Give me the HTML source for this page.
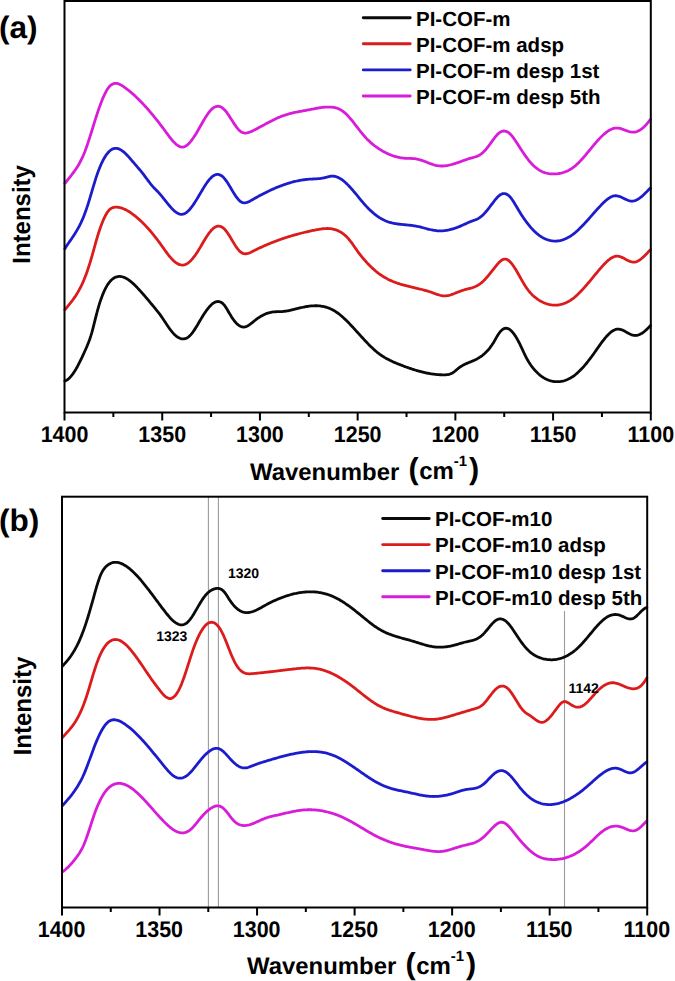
<!DOCTYPE html>
<html><head><meta charset="utf-8"><style>
html,body{margin:0;padding:0;background:#fff;}
body{width:675px;height:981px;overflow:hidden;font-family:"Liberation Sans",sans-serif;}
svg{display:block;text-rendering:geometricPrecision;}
</style></head><body>
<svg width="675" height="981" viewBox="0 0 675 981">
<rect width="675" height="981" fill="#fff"/>
<text transform="translate(-1.00,37.60) scale(1.020,1.000)" font-size="31.00" font-family="'Liberation Sans', sans-serif" font-weight="bold">(a)</text>
<text transform="translate(29.60,214.40) rotate(-90) scale(1.000,1.040)" font-size="24.00" text-anchor="middle" font-family="'Liberation Sans', sans-serif" font-weight="bold">Intensity</text>
<path d="M64.90,381.02 L65.90,380.60 L66.90,380.03 L67.90,379.32 L68.90,378.47 L69.90,377.49 L70.90,376.38 L71.90,375.15 L72.90,373.81 L73.90,372.37 L74.90,370.82 L75.90,369.17 L76.90,367.43 L77.90,365.61 L78.90,363.71 L79.90,361.74 L80.90,359.71 L81.90,357.61 L82.90,355.46 L83.90,353.26 L84.90,351.02 L85.90,348.75 L86.90,346.43 L87.90,344.03 L88.90,341.48 L89.90,338.72 L90.90,335.68 L91.90,332.30 L92.90,328.60 L93.90,324.67 L94.90,320.65 L95.90,316.63 L96.90,312.73 L97.90,309.05 L98.90,305.61 L99.90,302.40 L100.90,299.42 L101.90,296.65 L102.90,294.10 L103.90,291.75 L104.90,289.61 L105.90,287.65 L106.90,285.87 L107.90,284.28 L108.90,282.85 L109.90,281.59 L110.90,280.49 L111.90,279.53 L112.90,278.72 L113.90,278.04 L114.90,277.49 L115.90,277.07 L116.90,276.76 L117.90,276.56 L118.90,276.46 L119.90,276.46 L120.90,276.55 L121.90,276.73 L122.90,276.99 L123.90,277.33 L124.90,277.76 L125.90,278.25 L126.90,278.81 L127.90,279.44 L128.90,280.13 L129.90,280.87 L130.90,281.67 L131.90,282.51 L132.90,283.40 L133.90,284.33 L134.90,285.30 L135.90,286.30 L136.90,287.32 L137.90,288.37 L138.90,289.44 L139.90,290.53 L140.90,291.63 L141.90,292.74 L142.90,293.87 L143.90,295.01 L144.90,296.16 L145.90,297.32 L146.90,298.50 L147.90,299.68 L148.90,300.87 L149.90,302.07 L150.90,303.28 L151.90,304.49 L152.90,305.72 L153.90,306.95 L154.90,308.18 L155.90,309.42 L156.90,310.66 L157.90,311.91 L158.90,313.17 L159.90,314.47 L160.90,315.83 L161.90,317.25 L162.90,318.72 L163.90,320.21 L164.90,321.73 L165.90,323.25 L166.90,324.75 L167.90,326.24 L168.90,327.68 L169.90,329.08 L170.90,330.41 L171.90,331.66 L172.90,332.83 L173.90,333.91 L174.90,334.89 L175.90,335.78 L176.90,336.57 L177.90,337.25 L178.90,337.83 L179.90,338.29 L180.90,338.63 L181.90,338.84 L182.90,338.93 L183.90,338.89 L184.90,338.72 L185.90,338.40 L186.90,337.94 L187.90,337.33 L188.90,336.57 L189.90,335.66 L190.90,334.59 L191.90,333.39 L192.90,332.07 L193.90,330.64 L194.90,329.13 L195.90,327.55 L196.90,325.91 L197.90,324.23 L198.90,322.53 L199.90,320.83 L200.90,319.13 L201.90,317.45 L202.90,315.82 L203.90,314.23 L204.90,312.70 L205.90,311.24 L206.90,309.85 L207.90,308.54 L208.90,307.32 L209.90,306.20 L210.90,305.17 L211.90,304.26 L212.90,303.46 L213.90,302.79 L214.90,302.25 L215.90,301.85 L216.90,301.60 L217.90,301.50 L218.90,301.56 L219.90,301.80 L220.90,302.21 L221.90,302.82 L222.90,303.64 L223.90,304.67 L224.90,305.93 L225.90,307.39 L226.90,308.99 L227.90,310.69 L228.90,312.43 L229.90,314.16 L230.90,315.84 L231.90,317.42 L232.90,318.90 L233.90,320.27 L234.90,321.53 L235.90,322.67 L236.90,323.69 L237.90,324.59 L238.90,325.35 L239.90,325.98 L240.90,326.46 L241.90,326.80 L242.90,326.99 L243.90,327.03 L244.90,326.93 L245.90,326.67 L246.90,326.28 L247.90,325.77 L248.90,325.16 L249.90,324.47 L250.90,323.72 L251.90,322.93 L252.90,322.11 L253.90,321.29 L254.90,320.48 L255.90,319.69 L256.90,318.94 L257.90,318.23 L258.90,317.55 L259.90,316.90 L260.90,316.29 L261.90,315.72 L262.90,315.18 L263.90,314.68 L264.90,314.22 L265.90,313.80 L266.90,313.42 L267.90,313.08 L268.90,312.78 L269.90,312.52 L270.90,312.30 L271.90,312.12 L272.90,311.98 L273.90,311.88 L274.90,311.81 L275.90,311.75 L276.90,311.72 L277.90,311.69 L278.90,311.67 L279.90,311.64 L280.90,311.60 L281.90,311.55 L282.90,311.48 L283.90,311.38 L284.90,311.26 L285.90,311.12 L286.90,310.96 L287.90,310.78 L288.90,310.59 L289.90,310.38 L290.90,310.16 L291.90,309.93 L292.90,309.70 L293.90,309.45 L294.90,309.20 L295.90,308.95 L296.90,308.70 L297.90,308.45 L298.90,308.20 L299.90,307.95 L300.90,307.72 L301.90,307.49 L302.90,307.26 L303.90,307.05 L304.90,306.86 L305.90,306.67 L306.90,306.50 L307.90,306.35 L308.90,306.21 L309.90,306.08 L310.90,305.98 L311.90,305.89 L312.90,305.83 L313.90,305.78 L314.90,305.76 L315.90,305.75 L316.90,305.77 L317.90,305.82 L318.90,305.89 L319.90,305.98 L320.90,306.11 L321.90,306.26 L322.90,306.44 L323.90,306.65 L324.90,306.88 L325.90,307.16 L326.90,307.46 L327.90,307.79 L328.90,308.17 L329.90,308.57 L330.90,309.01 L331.90,309.49 L332.90,310.01 L333.90,310.56 L334.90,311.16 L335.90,311.79 L336.90,312.47 L337.90,313.18 L338.90,313.94 L339.90,314.72 L340.90,315.54 L341.90,316.40 L342.90,317.28 L343.90,318.19 L344.90,319.12 L345.90,320.08 L346.90,321.07 L347.90,322.07 L348.90,323.09 L349.90,324.13 L350.90,325.18 L351.90,326.24 L352.90,327.32 L353.90,328.40 L354.90,329.49 L355.90,330.59 L356.90,331.70 L357.90,332.80 L358.90,333.91 L359.90,335.02 L360.90,336.12 L361.90,337.22 L362.90,338.31 L363.90,339.40 L364.90,340.47 L365.90,341.54 L366.90,342.59 L367.90,343.63 L368.90,344.65 L369.90,345.66 L370.90,346.64 L371.90,347.61 L372.90,348.55 L373.90,349.46 L374.90,350.35 L375.90,351.21 L376.90,352.05 L377.90,352.85 L378.90,353.61 L379.90,354.35 L380.90,355.06 L381.90,355.74 L382.90,356.39 L383.90,357.02 L384.90,357.63 L385.90,358.21 L386.90,358.77 L387.90,359.30 L388.90,359.82 L389.90,360.33 L390.90,360.81 L391.90,361.28 L392.90,361.74 L393.90,362.18 L394.90,362.61 L395.90,363.04 L396.90,363.45 L397.90,363.86 L398.90,364.26 L399.90,364.65 L400.90,365.05 L401.90,365.43 L402.90,365.82 L403.90,366.19 L404.90,366.57 L405.90,366.94 L406.90,367.30 L407.90,367.66 L408.90,368.01 L409.90,368.35 L410.90,368.69 L411.90,369.02 L412.90,369.35 L413.90,369.67 L414.90,369.98 L415.90,370.28 L416.90,370.58 L417.90,370.86 L418.90,371.14 L419.90,371.41 L420.90,371.68 L421.90,371.93 L422.90,372.18 L423.90,372.41 L424.90,372.64 L425.90,372.85 L426.90,373.06 L427.90,373.25 L428.90,373.44 L429.90,373.62 L430.90,373.78 L431.90,373.93 L432.90,374.07 L433.90,374.20 L434.90,374.32 L435.90,374.43 L436.90,374.52 L437.90,374.60 L438.90,374.67 L439.90,374.73 L440.90,374.77 L441.90,374.80 L442.90,374.82 L443.90,374.82 L444.90,374.80 L445.90,374.75 L446.90,374.66 L447.90,374.52 L448.90,374.32 L449.90,374.04 L450.90,373.68 L451.90,373.23 L452.90,372.68 L453.90,372.01 L454.90,371.24 L455.90,370.41 L456.90,369.55 L457.90,368.70 L458.90,367.90 L459.90,367.17 L460.90,366.49 L461.90,365.88 L462.90,365.31 L463.90,364.78 L464.90,364.29 L465.90,363.83 L466.90,363.39 L467.90,362.96 L468.90,362.54 L469.90,362.13 L470.90,361.71 L471.90,361.29 L472.90,360.86 L473.90,360.41 L474.90,359.94 L475.90,359.45 L476.90,358.93 L477.90,358.38 L478.90,357.79 L479.90,357.16 L480.90,356.49 L481.90,355.77 L482.90,355.00 L483.90,354.18 L484.90,353.29 L485.90,352.34 L486.90,351.31 L487.90,350.22 L488.90,349.05 L489.90,347.80 L490.90,346.46 L491.90,345.03 L492.90,343.51 L493.90,341.90 L494.90,340.18 L495.90,338.42 L496.90,336.67 L497.90,335.00 L498.90,333.47 L499.90,332.13 L500.90,330.96 L501.90,330.00 L502.90,329.23 L503.90,328.68 L504.90,328.35 L505.90,328.23 L506.90,328.31 L507.90,328.58 L508.90,329.05 L509.90,329.69 L510.90,330.50 L511.90,331.48 L512.90,332.62 L513.90,333.90 L514.90,335.32 L515.90,336.87 L516.90,338.55 L517.90,340.34 L518.90,342.24 L519.90,344.24 L520.90,346.32 L521.90,348.46 L522.90,350.62 L523.90,352.76 L524.90,354.86 L525.90,356.88 L526.90,358.80 L527.90,360.59 L528.90,362.25 L529.90,363.81 L530.90,365.26 L531.90,366.62 L532.90,367.90 L533.90,369.10 L534.90,370.25 L535.90,371.33 L536.90,372.35 L537.90,373.32 L538.90,374.22 L539.90,375.07 L540.90,375.86 L541.90,376.60 L542.90,377.28 L543.90,377.91 L544.90,378.49 L545.90,379.01 L546.90,379.49 L547.90,379.91 L548.90,380.29 L549.90,380.62 L550.90,380.91 L551.90,381.15 L552.90,381.34 L553.90,381.50 L554.90,381.61 L555.90,381.68 L556.90,381.71 L557.90,381.70 L558.90,381.65 L559.90,381.55 L560.90,381.42 L561.90,381.25 L562.90,381.03 L563.90,380.78 L564.90,380.48 L565.90,380.13 L566.90,379.75 L567.90,379.32 L568.90,378.84 L569.90,378.32 L570.90,377.76 L571.90,377.14 L572.90,376.49 L573.90,375.78 L574.90,375.03 L575.90,374.23 L576.90,373.39 L577.90,372.50 L578.90,371.57 L579.90,370.60 L580.90,369.59 L581.90,368.54 L582.90,367.45 L583.90,366.32 L584.90,365.17 L585.90,363.98 L586.90,362.75 L587.90,361.50 L588.90,360.22 L589.90,358.92 L590.90,357.58 L591.90,356.23 L592.90,354.85 L593.90,353.45 L594.90,352.03 L595.90,350.61 L596.90,349.17 L597.90,347.75 L598.90,346.33 L599.90,344.92 L600.90,343.53 L601.90,342.17 L602.90,340.85 L603.90,339.56 L604.90,338.32 L605.90,337.13 L606.90,335.99 L607.90,334.92 L608.90,333.92 L609.90,333.00 L610.90,332.16 L611.90,331.40 L612.90,330.75 L613.90,330.19 L614.90,329.74 L615.90,329.40 L616.90,329.18 L617.90,329.09 L618.90,329.13 L619.90,329.28 L620.90,329.54 L621.90,329.89 L622.90,330.31 L623.90,330.79 L624.90,331.31 L625.90,331.86 L626.90,332.42 L627.90,332.97 L628.90,333.51 L629.90,334.01 L630.90,334.46 L631.90,334.85 L632.90,335.16 L633.90,335.38 L634.90,335.48 L635.90,335.47 L636.90,335.34 L637.90,335.11 L638.90,334.78 L639.90,334.35 L640.90,333.84 L641.90,333.24 L642.90,332.57 L643.90,331.82 L644.90,331.01 L645.90,330.14 L646.90,329.21 L647.90,328.23 L648.90,327.22 L649.90,326.16 L650.50,325.51" fill="none" stroke="#0a0a0a" stroke-width="2.80" stroke-linejoin="round" stroke-linecap="round"/>
<path d="M64.90,309.69 L65.90,308.49 L66.90,307.30 L67.90,306.10 L68.90,304.88 L69.90,303.65 L70.90,302.39 L71.90,301.09 L72.90,299.75 L73.90,298.36 L74.90,296.92 L75.90,295.40 L76.90,293.81 L77.90,292.14 L78.90,290.38 L79.90,288.53 L80.90,286.57 L81.90,284.50 L82.90,282.31 L83.90,279.99 L84.90,277.53 L85.90,274.94 L86.90,272.19 L87.90,269.30 L88.90,266.26 L89.90,263.08 L90.90,259.77 L91.90,256.32 L92.90,252.77 L93.90,249.16 L94.90,245.54 L95.90,241.97 L96.90,238.49 L97.90,235.15 L98.90,231.96 L99.90,228.95 L100.90,226.10 L101.90,223.43 L102.90,220.95 L103.90,218.66 L104.90,216.57 L105.90,214.68 L106.90,213.01 L107.90,211.56 L108.90,210.33 L109.90,209.34 L110.90,208.56 L111.90,207.97 L112.90,207.56 L113.90,207.29 L114.90,207.15 L115.90,207.11 L116.90,207.16 L117.90,207.26 L118.90,207.42 L119.90,207.63 L120.90,207.89 L121.90,208.19 L122.90,208.54 L123.90,208.94 L124.90,209.38 L125.90,209.86 L126.90,210.38 L127.90,210.94 L128.90,211.54 L129.90,212.17 L130.90,212.84 L131.90,213.54 L132.90,214.27 L133.90,215.03 L134.90,215.82 L135.90,216.63 L136.90,217.48 L137.90,218.34 L138.90,219.23 L139.90,220.14 L140.90,221.08 L141.90,222.04 L142.90,223.02 L143.90,224.03 L144.90,225.05 L145.90,226.11 L146.90,227.18 L147.90,228.28 L148.90,229.40 L149.90,230.54 L150.90,231.70 L151.90,232.89 L152.90,234.10 L153.90,235.33 L154.90,236.59 L155.90,237.87 L156.90,239.17 L157.90,240.49 L158.90,241.84 L159.90,243.20 L160.90,244.59 L161.90,246.00 L162.90,247.41 L163.90,248.81 L164.90,250.21 L165.90,251.59 L166.90,252.95 L167.90,254.27 L168.90,255.54 L169.90,256.77 L170.90,257.93 L171.90,259.03 L172.90,260.06 L173.90,261.00 L174.90,261.87 L175.90,262.64 L176.90,263.31 L177.90,263.89 L178.90,264.36 L179.90,264.71 L180.90,264.95 L181.90,265.06 L182.90,265.05 L183.90,264.90 L184.90,264.63 L185.90,264.22 L186.90,263.70 L187.90,263.06 L188.90,262.30 L189.90,261.44 L190.90,260.47 L191.90,259.40 L192.90,258.24 L193.90,256.98 L194.90,255.64 L195.90,254.21 L196.90,252.70 L197.90,251.13 L198.90,249.51 L199.90,247.85 L200.90,246.17 L201.90,244.47 L202.90,242.77 L203.90,241.09 L204.90,239.43 L205.90,237.82 L206.90,236.25 L207.90,234.76 L208.90,233.34 L209.90,232.02 L210.90,230.80 L211.90,229.70 L212.90,228.74 L213.90,227.92 L214.90,227.25 L215.90,226.73 L216.90,226.37 L217.90,226.18 L218.90,226.14 L219.90,226.28 L220.90,226.58 L221.90,227.05 L222.90,227.71 L223.90,228.53 L224.90,229.54 L225.90,230.72 L226.90,232.04 L227.90,233.47 L228.90,235.00 L229.90,236.61 L230.90,238.26 L231.90,239.94 L232.90,241.61 L233.90,243.27 L234.90,244.88 L235.90,246.42 L236.90,247.87 L237.90,249.20 L238.90,250.39 L239.90,251.41 L240.90,252.26 L241.90,252.90 L242.90,253.35 L243.90,253.64 L244.90,253.77 L245.90,253.76 L246.90,253.64 L247.90,253.41 L248.90,253.09 L249.90,252.71 L250.90,252.26 L251.90,251.78 L252.90,251.28 L253.90,250.77 L254.90,250.27 L255.90,249.78 L256.90,249.29 L257.90,248.80 L258.90,248.32 L259.90,247.85 L260.90,247.39 L261.90,246.93 L262.90,246.47 L263.90,246.03 L264.90,245.59 L265.90,245.15 L266.90,244.72 L267.90,244.29 L268.90,243.88 L269.90,243.46 L270.90,243.06 L271.90,242.65 L272.90,242.26 L273.90,241.87 L274.90,241.48 L275.90,241.10 L276.90,240.73 L277.90,240.36 L278.90,239.99 L279.90,239.63 L280.90,239.28 L281.90,238.93 L282.90,238.59 L283.90,238.25 L284.90,237.92 L285.90,237.59 L286.90,237.27 L287.90,236.95 L288.90,236.63 L289.90,236.33 L290.90,236.02 L291.90,235.72 L292.90,235.43 L293.90,235.14 L294.90,234.86 L295.90,234.58 L296.90,234.30 L297.90,234.03 L298.90,233.76 L299.90,233.50 L300.90,233.24 L301.90,232.99 L302.90,232.74 L303.90,232.50 L304.90,232.26 L305.90,232.02 L306.90,231.79 L307.90,231.56 L308.90,231.34 L309.90,231.12 L310.90,230.90 L311.90,230.69 L312.90,230.48 L313.90,230.28 L314.90,230.08 L315.90,229.88 L316.90,229.69 L317.90,229.51 L318.90,229.33 L319.90,229.17 L320.90,229.01 L321.90,228.88 L322.90,228.76 L323.90,228.66 L324.90,228.59 L325.90,228.54 L326.90,228.51 L327.90,228.52 L328.90,228.56 L329.90,228.63 L330.90,228.73 L331.90,228.87 L332.90,229.06 L333.90,229.28 L334.90,229.56 L335.90,229.87 L336.90,230.24 L337.90,230.66 L338.90,231.13 L339.90,231.66 L340.90,232.24 L341.90,232.89 L342.90,233.60 L343.90,234.37 L344.90,235.21 L345.90,236.12 L346.90,237.10 L347.90,238.16 L348.90,239.29 L349.90,240.50 L350.90,241.78 L351.90,243.13 L352.90,244.54 L353.90,245.97 L354.90,247.42 L355.90,248.87 L356.90,250.29 L357.90,251.69 L358.90,253.05 L359.90,254.36 L360.90,255.64 L361.90,256.88 L362.90,258.10 L363.90,259.27 L364.90,260.42 L365.90,261.54 L366.90,262.63 L367.90,263.70 L368.90,264.74 L369.90,265.75 L370.90,266.73 L371.90,267.69 L372.90,268.62 L373.90,269.52 L374.90,270.39 L375.90,271.24 L376.90,272.05 L377.90,272.83 L378.90,273.59 L379.90,274.31 L380.90,275.01 L381.90,275.68 L382.90,276.32 L383.90,276.94 L384.90,277.53 L385.90,278.10 L386.90,278.64 L387.90,279.17 L388.90,279.67 L389.90,280.15 L390.90,280.61 L391.90,281.05 L392.90,281.48 L393.90,281.88 L394.90,282.27 L395.90,282.65 L396.90,283.00 L397.90,283.35 L398.90,283.68 L399.90,284.00 L400.90,284.31 L401.90,284.61 L402.90,284.89 L403.90,285.17 L404.90,285.44 L405.90,285.70 L406.90,285.96 L407.90,286.20 L408.90,286.45 L409.90,286.69 L410.90,286.92 L411.90,287.16 L412.90,287.39 L413.90,287.62 L414.90,287.85 L415.90,288.08 L416.90,288.31 L417.90,288.54 L418.90,288.78 L419.90,289.02 L420.90,289.26 L421.90,289.51 L422.90,289.76 L423.90,290.03 L424.90,290.30 L425.90,290.57 L426.90,290.86 L427.90,291.16 L428.90,291.47 L429.90,291.79 L430.90,292.12 L431.90,292.47 L432.90,292.83 L433.90,293.20 L434.90,293.58 L435.90,293.95 L436.90,294.31 L437.90,294.65 L438.90,294.97 L439.90,295.25 L440.90,295.49 L441.90,295.68 L442.90,295.81 L443.90,295.87 L444.90,295.87 L445.90,295.80 L446.90,295.68 L447.90,295.51 L448.90,295.30 L449.90,295.04 L450.90,294.75 L451.90,294.42 L452.90,294.07 L453.90,293.71 L454.90,293.32 L455.90,292.92 L456.90,292.52 L457.90,292.12 L458.90,291.73 L459.90,291.34 L460.90,290.97 L461.90,290.62 L462.90,290.29 L463.90,289.99 L464.90,289.71 L465.90,289.44 L466.90,289.18 L467.90,288.93 L468.90,288.67 L469.90,288.40 L470.90,288.11 L471.90,287.81 L472.90,287.48 L473.90,287.12 L474.90,286.71 L475.90,286.27 L476.90,285.77 L477.90,285.22 L478.90,284.60 L479.90,283.92 L480.90,283.17 L481.90,282.34 L482.90,281.44 L483.90,280.48 L484.90,279.47 L485.90,278.40 L486.90,277.29 L487.90,276.13 L488.90,274.94 L489.90,273.72 L490.90,272.48 L491.90,271.22 L492.90,269.94 L493.90,268.66 L494.90,267.37 L495.90,266.10 L496.90,264.87 L497.90,263.70 L498.90,262.61 L499.90,261.63 L500.90,260.77 L501.90,260.07 L502.90,259.53 L503.90,259.18 L504.90,259.05 L505.90,259.15 L506.90,259.47 L507.90,260.00 L508.90,260.73 L509.90,261.63 L510.90,262.69 L511.90,263.89 L512.90,265.22 L513.90,266.67 L514.90,268.21 L515.90,269.83 L516.90,271.51 L517.90,273.25 L518.90,275.01 L519.90,276.79 L520.90,278.58 L521.90,280.34 L522.90,282.08 L523.90,283.77 L524.90,285.39 L525.90,286.94 L526.90,288.39 L527.90,289.76 L528.90,291.04 L529.90,292.25 L530.90,293.37 L531.90,294.43 L532.90,295.41 L533.90,296.33 L534.90,297.19 L535.90,297.99 L536.90,298.74 L537.90,299.44 L538.90,300.09 L539.90,300.69 L540.90,301.26 L541.90,301.79 L542.90,302.28 L543.90,302.74 L544.90,303.15 L545.90,303.53 L546.90,303.87 L547.90,304.17 L548.90,304.43 L549.90,304.65 L550.90,304.83 L551.90,304.97 L552.90,305.07 L553.90,305.14 L554.90,305.16 L555.90,305.14 L556.90,305.08 L557.90,304.99 L558.90,304.85 L559.90,304.67 L560.90,304.45 L561.90,304.19 L562.90,303.88 L563.90,303.54 L564.90,303.15 L565.90,302.73 L566.90,302.26 L567.90,301.75 L568.90,301.19 L569.90,300.60 L570.90,299.96 L571.90,299.28 L572.90,298.56 L573.90,297.79 L574.90,296.98 L575.90,296.13 L576.90,295.24 L577.90,294.31 L578.90,293.35 L579.90,292.35 L580.90,291.32 L581.90,290.26 L582.90,289.17 L583.90,288.06 L584.90,286.93 L585.90,285.78 L586.90,284.62 L587.90,283.44 L588.90,282.24 L589.90,281.04 L590.90,279.83 L591.90,278.62 L592.90,277.40 L593.90,276.19 L594.90,274.97 L595.90,273.76 L596.90,272.56 L597.90,271.37 L598.90,270.19 L599.90,269.02 L600.90,267.87 L601.90,266.74 L602.90,265.63 L603.90,264.55 L604.90,263.50 L605.90,262.49 L606.90,261.53 L607.90,260.62 L608.90,259.78 L609.90,259.01 L610.90,258.31 L611.90,257.70 L612.90,257.18 L613.90,256.76 L614.90,256.44 L615.90,256.24 L616.90,256.16 L617.90,256.20 L618.90,256.36 L619.90,256.62 L620.90,256.96 L621.90,257.37 L622.90,257.84 L623.90,258.34 L624.90,258.87 L625.90,259.40 L626.90,259.93 L627.90,260.43 L628.90,260.90 L629.90,261.31 L630.90,261.65 L631.90,261.91 L632.90,262.07 L633.90,262.11 L634.90,262.03 L635.90,261.80 L636.90,261.46 L637.90,261.00 L638.90,260.43 L639.90,259.77 L640.90,259.03 L641.90,258.22 L642.90,257.34 L643.90,256.41 L644.90,255.44 L645.90,254.43 L646.90,253.41 L647.90,252.37 L648.90,251.34 L649.90,250.31 L650.50,249.70" fill="none" stroke="#dc1c1c" stroke-width="2.80" stroke-linejoin="round" stroke-linecap="round"/>
<path d="M64.90,248.70 L65.90,247.11 L66.90,245.56 L67.90,244.06 L68.90,242.58 L69.90,241.13 L70.90,239.67 L71.90,238.21 L72.90,236.73 L73.90,235.22 L74.90,233.67 L75.90,232.07 L76.90,230.40 L77.90,228.65 L78.90,226.82 L79.90,224.89 L80.90,222.85 L81.90,220.69 L82.90,218.40 L83.90,215.95 L84.90,213.36 L85.90,210.59 L86.90,207.66 L87.90,204.56 L88.90,201.35 L89.90,198.06 L90.90,194.70 L91.90,191.32 L92.90,187.95 L93.90,184.62 L94.90,181.36 L95.90,178.20 L96.90,175.18 L97.90,172.32 L98.90,169.63 L99.90,167.11 L100.90,164.76 L101.90,162.56 L102.90,160.53 L103.90,158.67 L104.90,156.96 L105.90,155.41 L106.90,154.02 L107.90,152.78 L108.90,151.70 L109.90,150.76 L110.90,149.98 L111.90,149.35 L112.90,148.87 L113.90,148.53 L114.90,148.34 L115.90,148.29 L116.90,148.37 L117.90,148.59 L118.90,148.93 L119.90,149.38 L120.90,149.94 L121.90,150.59 L122.90,151.34 L123.90,152.16 L124.90,153.05 L125.90,154.01 L126.90,155.02 L127.90,156.08 L128.90,157.18 L129.90,158.30 L130.90,159.45 L131.90,160.61 L132.90,161.78 L133.90,162.94 L134.90,164.10 L135.90,165.25 L136.90,166.40 L137.90,167.56 L138.90,168.73 L139.90,169.92 L140.90,171.14 L141.90,172.38 L142.90,173.65 L143.90,174.96 L144.90,176.30 L145.90,177.66 L146.90,179.01 L147.90,180.37 L148.90,181.70 L149.90,183.00 L150.90,184.26 L151.90,185.47 L152.90,186.62 L153.90,187.71 L154.90,188.77 L155.90,189.79 L156.90,190.82 L157.90,191.84 L158.90,192.89 L159.90,193.98 L160.90,195.12 L161.90,196.30 L162.90,197.52 L163.90,198.77 L164.90,200.03 L165.90,201.30 L166.90,202.56 L167.90,203.81 L168.90,205.04 L169.90,206.23 L170.90,207.38 L171.90,208.47 L172.90,209.51 L173.90,210.46 L174.90,211.34 L175.90,212.12 L176.90,212.80 L177.90,213.38 L178.90,213.83 L179.90,214.15 L180.90,214.33 L181.90,214.36 L182.90,214.23 L183.90,213.94 L184.90,213.49 L185.90,212.90 L186.90,212.16 L187.90,211.29 L188.90,210.30 L189.90,209.19 L190.90,207.99 L191.90,206.69 L192.90,205.30 L193.90,203.84 L194.90,202.32 L195.90,200.74 L196.90,199.11 L197.90,197.44 L198.90,195.76 L199.90,194.06 L200.90,192.36 L201.90,190.67 L202.90,189.00 L203.90,187.37 L204.90,185.78 L205.90,184.25 L206.90,182.79 L207.90,181.41 L208.90,180.12 L209.90,178.93 L210.90,177.86 L211.90,176.92 L212.90,176.12 L213.90,175.46 L214.90,174.97 L215.90,174.62 L216.90,174.44 L217.90,174.43 L218.90,174.57 L219.90,174.89 L220.90,175.37 L221.90,176.03 L222.90,176.86 L223.90,177.87 L224.90,179.04 L225.90,180.35 L226.90,181.79 L227.90,183.32 L228.90,184.92 L229.90,186.58 L230.90,188.27 L231.90,189.96 L232.90,191.63 L233.90,193.27 L234.90,194.85 L235.90,196.34 L236.90,197.73 L237.90,198.99 L238.90,200.10 L239.90,201.03 L240.90,201.77 L241.90,202.30 L242.90,202.63 L243.90,202.80 L244.90,202.80 L245.90,202.67 L246.90,202.43 L247.90,202.07 L248.90,201.64 L249.90,201.14 L250.90,200.60 L251.90,200.03 L252.90,199.45 L253.90,198.88 L254.90,198.30 L255.90,197.74 L256.90,197.18 L257.90,196.63 L258.90,196.08 L259.90,195.54 L260.90,195.00 L261.90,194.48 L262.90,193.95 L263.90,193.44 L264.90,192.93 L265.90,192.43 L266.90,191.94 L267.90,191.45 L268.90,190.97 L269.90,190.50 L270.90,190.03 L271.90,189.57 L272.90,189.13 L273.90,188.68 L274.90,188.25 L275.90,187.83 L276.90,187.41 L277.90,187.00 L278.90,186.60 L279.90,186.21 L280.90,185.83 L281.90,185.45 L282.90,185.09 L283.90,184.73 L284.90,184.39 L285.90,184.05 L286.90,183.73 L287.90,183.41 L288.90,183.10 L289.90,182.80 L290.90,182.52 L291.90,182.24 L292.90,181.97 L293.90,181.72 L294.90,181.47 L295.90,181.24 L296.90,181.01 L297.90,180.80 L298.90,180.60 L299.90,180.41 L300.90,180.23 L301.90,180.06 L302.90,179.90 L303.90,179.76 L304.90,179.63 L305.90,179.50 L306.90,179.40 L307.90,179.30 L308.90,179.22 L309.90,179.14 L310.90,179.08 L311.90,179.03 L312.90,178.99 L313.90,178.95 L314.90,178.90 L315.90,178.85 L316.90,178.79 L317.90,178.72 L318.90,178.63 L319.90,178.52 L320.90,178.38 L321.90,178.22 L322.90,178.03 L323.90,177.80 L324.90,177.55 L325.90,177.29 L326.90,177.03 L327.90,176.78 L328.90,176.56 L329.90,176.37 L330.90,176.24 L331.90,176.16 L332.90,176.16 L333.90,176.24 L334.90,176.41 L335.90,176.66 L336.90,176.98 L337.90,177.39 L338.90,177.86 L339.90,178.40 L340.90,179.01 L341.90,179.68 L342.90,180.42 L343.90,181.21 L344.90,182.05 L345.90,182.95 L346.90,183.89 L347.90,184.88 L348.90,185.91 L349.90,186.98 L350.90,188.08 L351.90,189.22 L352.90,190.38 L353.90,191.56 L354.90,192.76 L355.90,193.97 L356.90,195.19 L357.90,196.41 L358.90,197.64 L359.90,198.86 L360.90,200.07 L361.90,201.26 L362.90,202.44 L363.90,203.60 L364.90,204.73 L365.90,205.83 L366.90,206.90 L367.90,207.94 L368.90,208.95 L369.90,209.93 L370.90,210.88 L371.90,211.79 L372.90,212.67 L373.90,213.52 L374.90,214.33 L375.90,215.11 L376.90,215.86 L377.90,216.57 L378.90,217.25 L379.90,217.89 L380.90,218.49 L381.90,219.06 L382.90,219.59 L383.90,220.08 L384.90,220.54 L385.90,220.97 L386.90,221.36 L387.90,221.72 L388.90,222.05 L389.90,222.35 L390.90,222.63 L391.90,222.89 L392.90,223.12 L393.90,223.33 L394.90,223.52 L395.90,223.69 L396.90,223.85 L397.90,224.00 L398.90,224.13 L399.90,224.25 L400.90,224.36 L401.90,224.47 L402.90,224.57 L403.90,224.66 L404.90,224.76 L405.90,224.85 L406.90,224.94 L407.90,225.04 L408.90,225.14 L409.90,225.24 L410.90,225.36 L411.90,225.48 L412.90,225.61 L413.90,225.76 L414.90,225.92 L415.90,226.10 L416.90,226.29 L417.90,226.50 L418.90,226.73 L419.90,226.96 L420.90,227.21 L421.90,227.47 L422.90,227.73 L423.90,227.99 L424.90,228.25 L425.90,228.52 L426.90,228.78 L427.90,229.03 L428.90,229.28 L429.90,229.51 L430.90,229.74 L431.90,229.95 L432.90,230.15 L433.90,230.33 L434.90,230.48 L435.90,230.62 L436.90,230.73 L437.90,230.81 L438.90,230.86 L439.90,230.89 L440.90,230.88 L441.90,230.85 L442.90,230.79 L443.90,230.71 L444.90,230.60 L445.90,230.46 L446.90,230.31 L447.90,230.12 L448.90,229.92 L449.90,229.69 L450.90,229.44 L451.90,229.17 L452.90,228.88 L453.90,228.57 L454.90,228.24 L455.90,227.89 L456.90,227.53 L457.90,227.15 L458.90,226.75 L459.90,226.34 L460.90,225.91 L461.90,225.47 L462.90,225.02 L463.90,224.57 L464.90,224.12 L465.90,223.67 L466.90,223.21 L467.90,222.77 L468.90,222.33 L469.90,221.91 L470.90,221.50 L471.90,221.10 L472.90,220.73 L473.90,220.37 L474.90,220.01 L475.90,219.62 L476.90,219.19 L477.90,218.70 L478.90,218.14 L479.90,217.48 L480.90,216.73 L481.90,215.89 L482.90,214.96 L483.90,213.97 L484.90,212.90 L485.90,211.76 L486.90,210.57 L487.90,209.34 L488.90,208.06 L489.90,206.76 L490.90,205.44 L491.90,204.11 L492.90,202.79 L493.90,201.48 L494.90,200.20 L495.90,198.98 L496.90,197.82 L497.90,196.77 L498.90,195.84 L499.90,195.05 L500.90,194.42 L501.90,193.97 L502.90,193.69 L503.90,193.58 L504.90,193.66 L505.90,193.91 L506.90,194.34 L507.90,194.95 L508.90,195.75 L509.90,196.73 L510.90,197.90 L511.90,199.23 L512.90,200.70 L513.90,202.28 L514.90,203.93 L515.90,205.62 L516.90,207.33 L517.90,209.03 L518.90,210.69 L519.90,212.31 L520.90,213.90 L521.90,215.46 L522.90,216.97 L523.90,218.44 L524.90,219.88 L525.90,221.27 L526.90,222.62 L527.90,223.92 L528.90,225.18 L529.90,226.39 L530.90,227.55 L531.90,228.66 L532.90,229.72 L533.90,230.74 L534.90,231.70 L535.90,232.62 L536.90,233.49 L537.90,234.30 L538.90,235.08 L539.90,235.80 L540.90,236.47 L541.90,237.10 L542.90,237.68 L543.90,238.22 L544.90,238.70 L545.90,239.14 L546.90,239.54 L547.90,239.89 L548.90,240.19 L549.90,240.45 L550.90,240.66 L551.90,240.83 L552.90,240.95 L553.90,241.03 L554.90,241.07 L555.90,241.06 L556.90,241.01 L557.90,240.91 L558.90,240.77 L559.90,240.59 L560.90,240.36 L561.90,240.10 L562.90,239.79 L563.90,239.44 L564.90,239.04 L565.90,238.61 L566.90,238.13 L567.90,237.61 L568.90,237.06 L569.90,236.46 L570.90,235.82 L571.90,235.14 L572.90,234.43 L573.90,233.67 L574.90,232.87 L575.90,232.04 L576.90,231.17 L577.90,230.26 L578.90,229.32 L579.90,228.36 L580.90,227.36 L581.90,226.34 L582.90,225.30 L583.90,224.24 L584.90,223.16 L585.90,222.07 L586.90,220.96 L587.90,219.84 L588.90,218.71 L589.90,217.58 L590.90,216.44 L591.90,215.30 L592.90,214.16 L593.90,213.03 L594.90,211.90 L595.90,210.78 L596.90,209.66 L597.90,208.57 L598.90,207.48 L599.90,206.41 L600.90,205.36 L601.90,204.34 L602.90,203.33 L603.90,202.36 L604.90,201.42 L605.90,200.53 L606.90,199.69 L607.90,198.91 L608.90,198.20 L609.90,197.56 L610.90,197.00 L611.90,196.54 L612.90,196.17 L613.90,195.91 L614.90,195.77 L615.90,195.74 L616.90,195.83 L617.90,196.01 L618.90,196.28 L619.90,196.62 L620.90,197.02 L621.90,197.47 L622.90,197.94 L623.90,198.42 L624.90,198.91 L625.90,199.38 L626.90,199.82 L627.90,200.22 L628.90,200.56 L629.90,200.83 L630.90,201.02 L631.90,201.11 L632.90,201.08 L633.90,200.93 L634.90,200.67 L635.90,200.31 L636.90,199.85 L637.90,199.30 L638.90,198.66 L639.90,197.96 L640.90,197.18 L641.90,196.35 L642.90,195.47 L643.90,194.55 L644.90,193.60 L645.90,192.62 L646.90,191.62 L647.90,190.61 L648.90,189.59 L649.90,188.59 L650.50,187.99" fill="none" stroke="#1c1ccc" stroke-width="2.80" stroke-linejoin="round" stroke-linecap="round"/>
<path d="M64.90,183.42 L65.90,182.09 L66.90,180.80 L67.90,179.54 L68.90,178.29 L69.90,177.04 L70.90,175.79 L71.90,174.51 L72.90,173.22 L73.90,171.88 L74.90,170.49 L75.90,169.04 L76.90,167.52 L77.90,165.92 L78.90,164.22 L79.90,162.42 L80.90,160.50 L81.90,158.46 L82.90,156.29 L83.90,153.96 L84.90,151.48 L85.90,148.83 L86.90,146.03 L87.90,143.09 L88.90,140.05 L89.90,136.93 L90.90,133.74 L91.90,130.51 L92.90,127.27 L93.90,124.04 L94.90,120.83 L95.90,117.68 L96.90,114.59 L97.90,111.58 L98.90,108.66 L99.90,105.85 L100.90,103.15 L101.90,100.58 L102.90,98.15 L103.90,95.87 L104.90,93.75 L105.90,91.81 L106.90,90.06 L107.90,88.51 L108.90,87.17 L109.90,86.05 L110.90,85.14 L111.90,84.43 L112.90,83.91 L113.90,83.57 L114.90,83.38 L115.90,83.35 L116.90,83.44 L117.90,83.67 L118.90,84.00 L119.90,84.42 L120.90,84.93 L121.90,85.51 L122.90,86.15 L123.90,86.83 L124.90,87.54 L125.90,88.27 L126.90,89.02 L127.90,89.80 L128.90,90.60 L129.90,91.41 L130.90,92.25 L131.90,93.11 L132.90,93.99 L133.90,94.88 L134.90,95.80 L135.90,96.73 L136.90,97.68 L137.90,98.66 L138.90,99.64 L139.90,100.65 L140.90,101.67 L141.90,102.71 L142.90,103.77 L143.90,104.84 L144.90,105.93 L145.90,107.04 L146.90,108.16 L147.90,109.29 L148.90,110.44 L149.90,111.61 L150.90,112.79 L151.90,113.98 L152.90,115.19 L153.90,116.41 L154.90,117.64 L155.90,118.89 L156.90,120.14 L157.90,121.42 L158.90,122.70 L159.90,123.99 L160.90,125.30 L161.90,126.61 L162.90,127.94 L163.90,129.28 L164.90,130.62 L165.90,131.98 L166.90,133.34 L167.90,134.70 L168.90,136.04 L169.90,137.35 L170.90,138.62 L171.90,139.85 L172.90,141.01 L173.90,142.11 L174.90,143.12 L175.90,144.05 L176.90,144.87 L177.90,145.57 L178.90,146.15 L179.90,146.60 L180.90,146.90 L181.90,147.04 L182.90,147.02 L183.90,146.82 L184.90,146.45 L185.90,145.92 L186.90,145.24 L187.90,144.42 L188.90,143.47 L189.90,142.39 L190.90,141.21 L191.90,139.91 L192.90,138.53 L193.90,137.06 L194.90,135.52 L195.90,133.91 L196.90,132.24 L197.90,130.53 L198.90,128.79 L199.90,127.03 L200.90,125.26 L201.90,123.50 L202.90,121.76 L203.90,120.05 L204.90,118.39 L205.90,116.78 L206.90,115.24 L207.90,113.78 L208.90,112.42 L209.90,111.17 L210.90,110.03 L211.90,109.03 L212.90,108.17 L213.90,107.47 L214.90,106.93 L215.90,106.54 L216.90,106.32 L217.90,106.26 L218.90,106.36 L219.90,106.61 L220.90,107.02 L221.90,107.59 L222.90,108.32 L223.90,109.20 L224.90,110.24 L225.90,111.41 L226.90,112.71 L227.90,114.11 L228.90,115.58 L229.90,117.11 L230.90,118.68 L231.90,120.26 L232.90,121.83 L233.90,123.38 L234.90,124.88 L235.90,126.32 L236.90,127.66 L237.90,128.89 L238.90,129.99 L239.90,130.93 L240.90,131.71 L241.90,132.30 L242.90,132.71 L243.90,132.97 L244.90,133.09 L245.90,133.08 L246.90,132.96 L247.90,132.74 L248.90,132.43 L249.90,132.06 L250.90,131.64 L251.90,131.18 L252.90,130.70 L253.90,130.20 L254.90,129.70 L255.90,129.18 L256.90,128.66 L257.90,128.14 L258.90,127.61 L259.90,127.07 L260.90,126.53 L261.90,125.99 L262.90,125.45 L263.90,124.90 L264.90,124.36 L265.90,123.82 L266.90,123.28 L267.90,122.74 L268.90,122.21 L269.90,121.69 L270.90,121.17 L271.90,120.66 L272.90,120.16 L273.90,119.66 L274.90,119.18 L275.90,118.71 L276.90,118.25 L277.90,117.81 L278.90,117.38 L279.90,116.96 L280.90,116.56 L281.90,116.18 L282.90,115.82 L283.90,115.47 L284.90,115.13 L285.90,114.81 L286.90,114.51 L287.90,114.22 L288.90,113.93 L289.90,113.67 L290.90,113.41 L291.90,113.16 L292.90,112.92 L293.90,112.69 L294.90,112.47 L295.90,112.25 L296.90,112.04 L297.90,111.84 L298.90,111.64 L299.90,111.45 L300.90,111.26 L301.90,111.07 L302.90,110.88 L303.90,110.70 L304.90,110.52 L305.90,110.33 L306.90,110.15 L307.90,109.97 L308.90,109.78 L309.90,109.59 L310.90,109.40 L311.90,109.20 L312.90,109.01 L313.90,108.81 L314.90,108.62 L315.90,108.43 L316.90,108.25 L317.90,108.07 L318.90,107.90 L319.90,107.75 L320.90,107.60 L321.90,107.47 L322.90,107.35 L323.90,107.25 L324.90,107.16 L325.90,107.10 L326.90,107.05 L327.90,107.03 L328.90,107.03 L329.90,107.05 L330.90,107.11 L331.90,107.19 L332.90,107.30 L333.90,107.45 L334.90,107.63 L335.90,107.87 L336.90,108.15 L337.90,108.50 L338.90,108.91 L339.90,109.39 L340.90,109.94 L341.90,110.58 L342.90,111.29 L343.90,112.06 L344.90,112.91 L345.90,113.82 L346.90,114.80 L347.90,115.83 L348.90,116.92 L349.90,118.06 L350.90,119.24 L351.90,120.46 L352.90,121.72 L353.90,122.99 L354.90,124.29 L355.90,125.59 L356.90,126.89 L357.90,128.19 L358.90,129.48 L359.90,130.76 L360.90,132.01 L361.90,133.24 L362.90,134.44 L363.90,135.61 L364.90,136.74 L365.90,137.83 L366.90,138.89 L367.90,139.90 L368.90,140.87 L369.90,141.81 L370.90,142.71 L371.90,143.58 L372.90,144.42 L373.90,145.22 L374.90,145.99 L375.90,146.74 L376.90,147.45 L377.90,148.14 L378.90,148.80 L379.90,149.44 L380.90,150.05 L381.90,150.64 L382.90,151.21 L383.90,151.75 L384.90,152.28 L385.90,152.79 L386.90,153.27 L387.90,153.73 L388.90,154.18 L389.90,154.60 L390.90,155.00 L391.90,155.38 L392.90,155.73 L393.90,156.07 L394.90,156.38 L395.90,156.67 L396.90,156.94 L397.90,157.18 L398.90,157.40 L399.90,157.60 L400.90,157.78 L401.90,157.93 L402.90,158.06 L403.90,158.17 L404.90,158.25 L405.90,158.31 L406.90,158.35 L407.90,158.38 L408.90,158.40 L409.90,158.43 L410.90,158.45 L411.90,158.49 L412.90,158.54 L413.90,158.62 L414.90,158.72 L415.90,158.86 L416.90,159.04 L417.90,159.26 L418.90,159.51 L419.90,159.79 L420.90,160.10 L421.90,160.43 L422.90,160.78 L423.90,161.15 L424.90,161.52 L425.90,161.91 L426.90,162.30 L427.90,162.69 L428.90,163.07 L429.90,163.45 L430.90,163.81 L431.90,164.16 L432.90,164.49 L433.90,164.80 L434.90,165.08 L435.90,165.33 L436.90,165.55 L437.90,165.73 L438.90,165.86 L439.90,165.95 L440.90,166.01 L441.90,166.02 L442.90,166.00 L443.90,165.95 L444.90,165.86 L445.90,165.74 L446.90,165.59 L447.90,165.42 L448.90,165.22 L449.90,165.00 L450.90,164.75 L451.90,164.49 L452.90,164.21 L453.90,163.91 L454.90,163.59 L455.90,163.27 L456.90,162.93 L457.90,162.58 L458.90,162.23 L459.90,161.87 L460.90,161.51 L461.90,161.14 L462.90,160.78 L463.90,160.42 L464.90,160.06 L465.90,159.70 L466.90,159.36 L467.90,159.02 L468.90,158.69 L469.90,158.38 L470.90,158.08 L471.90,157.80 L472.90,157.53 L473.90,157.26 L474.90,156.97 L475.90,156.66 L476.90,156.31 L477.90,155.89 L478.90,155.41 L479.90,154.83 L480.90,154.16 L481.90,153.40 L482.90,152.54 L483.90,151.59 L484.90,150.55 L485.90,149.44 L486.90,148.24 L487.90,146.97 L488.90,145.64 L489.90,144.28 L490.90,142.89 L491.90,141.50 L492.90,140.12 L493.90,138.77 L494.90,137.46 L495.90,136.22 L496.90,135.07 L497.90,134.02 L498.90,133.11 L499.90,132.35 L500.90,131.75 L501.90,131.33 L502.90,131.07 L503.90,130.98 L504.90,131.05 L505.90,131.28 L506.90,131.67 L507.90,132.21 L508.90,132.90 L509.90,133.75 L510.90,134.74 L511.90,135.87 L512.90,137.13 L513.90,138.50 L514.90,139.94 L515.90,141.45 L516.90,142.99 L517.90,144.55 L518.90,146.11 L519.90,147.66 L520.90,149.20 L521.90,150.72 L522.90,152.23 L523.90,153.71 L524.90,155.15 L525.90,156.57 L526.90,157.94 L527.90,159.26 L528.90,160.53 L529.90,161.75 L530.90,162.91 L531.90,164.00 L532.90,165.02 L533.90,165.98 L534.90,166.87 L535.90,167.70 L536.90,168.48 L537.90,169.19 L538.90,169.84 L539.90,170.45 L540.90,170.99 L541.90,171.49 L542.90,171.93 L543.90,172.33 L544.90,172.68 L545.90,172.98 L546.90,173.24 L547.90,173.45 L548.90,173.63 L549.90,173.77 L550.90,173.87 L551.90,173.93 L552.90,173.96 L553.90,173.95 L554.90,173.92 L555.90,173.86 L556.90,173.77 L557.90,173.65 L558.90,173.50 L559.90,173.32 L560.90,173.11 L561.90,172.87 L562.90,172.59 L563.90,172.28 L564.90,171.93 L565.90,171.55 L566.90,171.12 L567.90,170.65 L568.90,170.14 L569.90,169.58 L570.90,168.98 L571.90,168.33 L572.90,167.63 L573.90,166.88 L574.90,166.08 L575.90,165.23 L576.90,164.33 L577.90,163.39 L578.90,162.40 L579.90,161.37 L580.90,160.31 L581.90,159.22 L582.90,158.10 L583.90,156.96 L584.90,155.79 L585.90,154.61 L586.90,153.41 L587.90,152.20 L588.90,150.99 L589.90,149.77 L590.90,148.55 L591.90,147.33 L592.90,146.12 L593.90,144.93 L594.90,143.74 L595.90,142.57 L596.90,141.43 L597.90,140.30 L598.90,139.21 L599.90,138.14 L600.90,137.11 L601.90,136.12 L602.90,135.17 L603.90,134.27 L604.90,133.41 L605.90,132.61 L606.90,131.85 L607.90,131.16 L608.90,130.53 L609.90,129.96 L610.90,129.46 L611.90,129.03 L612.90,128.67 L613.90,128.39 L614.90,128.19 L615.90,128.07 L616.90,128.04 L617.90,128.10 L618.90,128.23 L619.90,128.44 L620.90,128.70 L621.90,129.01 L622.90,129.35 L623.90,129.71 L624.90,130.09 L625.90,130.47 L626.90,130.83 L627.90,131.18 L628.90,131.49 L629.90,131.76 L630.90,131.97 L631.90,132.11 L632.90,132.17 L633.90,132.15 L634.90,132.03 L635.90,131.81 L636.90,131.50 L637.90,131.11 L638.90,130.62 L639.90,130.05 L640.90,129.40 L641.90,128.66 L642.90,127.84 L643.90,126.95 L644.90,125.98 L645.90,124.94 L646.90,123.83 L647.90,122.65 L648.90,121.40 L649.90,120.08 L650.50,119.26" fill="none" stroke="#d81cd8" stroke-width="2.80" stroke-linejoin="round" stroke-linecap="round"/>
<rect x="64.50" y="1.00" width="586.30" height="411.50" fill="none" stroke="#000" stroke-width="2"/>
<line x1="64.50" y1="412.50" x2="64.50" y2="420.50" stroke="#000" stroke-width="2"/>
<text transform="translate(64.50,441.70) scale(0.950,1.000)" font-size="22.60" text-anchor="middle" font-family="'Liberation Sans', sans-serif" font-weight="bold">1400</text>
<line x1="113.36" y1="412.50" x2="113.36" y2="417.00" stroke="#000" stroke-width="2"/>
<line x1="162.22" y1="412.50" x2="162.22" y2="420.50" stroke="#000" stroke-width="2"/>
<text transform="translate(162.22,441.70) scale(0.950,1.000)" font-size="22.60" text-anchor="middle" font-family="'Liberation Sans', sans-serif" font-weight="bold">1350</text>
<line x1="211.07" y1="412.50" x2="211.07" y2="417.00" stroke="#000" stroke-width="2"/>
<line x1="259.93" y1="412.50" x2="259.93" y2="420.50" stroke="#000" stroke-width="2"/>
<text transform="translate(259.93,441.70) scale(0.950,1.000)" font-size="22.60" text-anchor="middle" font-family="'Liberation Sans', sans-serif" font-weight="bold">1300</text>
<line x1="308.79" y1="412.50" x2="308.79" y2="417.00" stroke="#000" stroke-width="2"/>
<line x1="357.65" y1="412.50" x2="357.65" y2="420.50" stroke="#000" stroke-width="2"/>
<text transform="translate(357.65,441.70) scale(0.950,1.000)" font-size="22.60" text-anchor="middle" font-family="'Liberation Sans', sans-serif" font-weight="bold">1250</text>
<line x1="406.51" y1="412.50" x2="406.51" y2="417.00" stroke="#000" stroke-width="2"/>
<line x1="455.37" y1="412.50" x2="455.37" y2="420.50" stroke="#000" stroke-width="2"/>
<text transform="translate(455.37,441.70) scale(0.950,1.000)" font-size="22.60" text-anchor="middle" font-family="'Liberation Sans', sans-serif" font-weight="bold">1200</text>
<line x1="504.22" y1="412.50" x2="504.22" y2="417.00" stroke="#000" stroke-width="2"/>
<line x1="553.08" y1="412.50" x2="553.08" y2="420.50" stroke="#000" stroke-width="2"/>
<text transform="translate(553.08,441.70) scale(0.950,1.000)" font-size="22.60" text-anchor="middle" font-family="'Liberation Sans', sans-serif" font-weight="bold">1150</text>
<line x1="601.94" y1="412.50" x2="601.94" y2="417.00" stroke="#000" stroke-width="2"/>
<line x1="650.80" y1="412.50" x2="650.80" y2="420.50" stroke="#000" stroke-width="2"/>
<text transform="translate(650.80,441.70) scale(0.950,1.000)" font-size="22.60" text-anchor="middle" font-family="'Liberation Sans', sans-serif" font-weight="bold">1100</text>
<text transform="translate(250.10,479.50)" font-size="23.90" font-family="'Liberation Sans', sans-serif" font-weight="bold">Wavenumber</text>
<text transform="translate(408.40,479.20)" font-size="30.50" font-family="'Liberation Sans', sans-serif" font-weight="bold">(</text>
<text transform="translate(419.20,479.40)" font-size="24.00" font-family="'Liberation Sans', sans-serif" font-weight="bold">cm</text>
<text transform="translate(453.70,465.70)" font-size="15.00" font-family="'Liberation Sans', sans-serif" font-weight="bold">-1</text>
<text transform="translate(469.10,479.20)" font-size="30.50" font-family="'Liberation Sans', sans-serif" font-weight="bold">)</text>
<line x1="363.30" y1="17.70" x2="410.20" y2="17.70" stroke="#0a0a0a" stroke-width="2.9" stroke-linecap="round"/>
<text transform="translate(416.00,25.50)" font-size="20.50" font-family="'Liberation Sans', sans-serif" font-weight="bold">PI-COF-m</text>
<line x1="363.30" y1="43.80" x2="410.20" y2="43.80" stroke="#dc1c1c" stroke-width="2.9" stroke-linecap="round"/>
<text transform="translate(416.00,51.60)" font-size="20.50" font-family="'Liberation Sans', sans-serif" font-weight="bold">PI-COF-m adsp</text>
<line x1="363.30" y1="69.90" x2="410.20" y2="69.90" stroke="#1c1ccc" stroke-width="2.9" stroke-linecap="round"/>
<text transform="translate(416.00,77.70)" font-size="20.50" font-family="'Liberation Sans', sans-serif" font-weight="bold">PI-COF-m desp 1st</text>
<line x1="363.30" y1="96.00" x2="410.20" y2="96.00" stroke="#d81cd8" stroke-width="2.9" stroke-linecap="round"/>
<text transform="translate(416.00,103.80)" font-size="20.50" font-family="'Liberation Sans', sans-serif" font-weight="bold">PI-COF-m desp 5th</text>
<text transform="translate(-1.00,531.20) scale(1.020,1.000)" font-size="31.00" font-family="'Liberation Sans', sans-serif" font-weight="bold">(b)</text>
<text transform="translate(31.00,706.00) rotate(-90) scale(1.000,1.040)" font-size="24.00" text-anchor="middle" font-family="'Liberation Sans', sans-serif" font-weight="bold">Intensity</text>
<line x1="208.40" y1="497.00" x2="208.40" y2="907" stroke="#9a9a9a" stroke-width="1.1"/>
<line x1="218.40" y1="497.00" x2="218.40" y2="907" stroke="#9a9a9a" stroke-width="1.1"/>
<line x1="564.50" y1="611.00" x2="564.50" y2="907" stroke="#9a9a9a" stroke-width="1.1"/>
<path d="M62.50,666.07 L63.50,665.01 L64.50,663.92 L65.50,662.80 L66.50,661.63 L67.50,660.42 L68.50,659.16 L69.50,657.83 L70.50,656.45 L71.50,655.00 L72.50,653.47 L73.50,651.87 L74.50,650.19 L75.50,648.41 L76.50,646.55 L77.50,644.58 L78.50,642.52 L79.50,640.34 L80.50,638.05 L81.50,635.64 L82.50,633.10 L83.50,630.44 L84.50,627.64 L85.50,624.71 L86.50,621.65 L87.50,618.48 L88.50,615.22 L89.50,611.86 L90.50,608.42 L91.50,604.92 L92.50,601.37 L93.50,597.78 L94.50,594.18 L95.50,590.63 L96.50,587.16 L97.50,583.85 L98.50,580.72 L99.50,577.85 L100.50,575.28 L101.50,573.05 L102.50,571.16 L103.50,569.57 L104.50,568.22 L105.50,567.08 L106.50,566.11 L107.50,565.27 L108.50,564.53 L109.50,563.91 L110.50,563.40 L111.50,562.99 L112.50,562.68 L113.50,562.46 L114.50,562.33 L115.50,562.29 L116.50,562.33 L117.50,562.45 L118.50,562.65 L119.50,562.92 L120.50,563.25 L121.50,563.65 L122.50,564.10 L123.50,564.61 L124.50,565.18 L125.50,565.79 L126.50,566.44 L127.50,567.15 L128.50,567.89 L129.50,568.68 L130.50,569.51 L131.50,570.38 L132.50,571.28 L133.50,572.23 L134.50,573.20 L135.50,574.21 L136.50,575.25 L137.50,576.32 L138.50,577.42 L139.50,578.55 L140.50,579.70 L141.50,580.88 L142.50,582.08 L143.50,583.29 L144.50,584.53 L145.50,585.79 L146.50,587.06 L147.50,588.35 L148.50,589.65 L149.50,590.96 L150.50,592.28 L151.50,593.61 L152.50,594.94 L153.50,596.29 L154.50,597.63 L155.50,598.98 L156.50,600.33 L157.50,601.68 L158.50,603.03 L159.50,604.37 L160.50,605.71 L161.50,607.04 L162.50,608.36 L163.50,609.67 L164.50,610.97 L165.50,612.26 L166.50,613.52 L167.50,614.75 L168.50,615.94 L169.50,617.09 L170.50,618.19 L171.50,619.23 L172.50,620.20 L173.50,621.10 L174.50,621.93 L175.50,622.66 L176.50,623.31 L177.50,623.85 L178.50,624.29 L179.50,624.61 L180.50,624.82 L181.50,624.90 L182.50,624.84 L183.50,624.64 L184.50,624.29 L185.50,623.79 L186.50,623.13 L187.50,622.30 L188.50,621.30 L189.50,620.15 L190.50,618.88 L191.50,617.48 L192.50,615.99 L193.50,614.41 L194.50,612.77 L195.50,611.09 L196.50,609.37 L197.50,607.63 L198.50,605.90 L199.50,604.19 L200.50,602.52 L201.50,600.90 L202.50,599.34 L203.50,597.88 L204.50,596.52 L205.50,595.27 L206.50,594.15 L207.50,593.13 L208.50,592.23 L209.50,591.43 L210.50,590.73 L211.50,590.13 L212.50,589.62 L213.50,589.20 L214.50,588.87 L215.50,588.62 L216.50,588.45 L217.50,588.39 L218.50,588.44 L219.50,588.63 L220.50,588.97 L221.50,589.49 L222.50,590.19 L223.50,591.10 L224.50,592.22 L225.50,593.54 L226.50,595.01 L227.50,596.56 L228.50,598.14 L229.50,599.69 L230.50,601.18 L231.50,602.57 L232.50,603.87 L233.50,605.08 L234.50,606.20 L235.50,607.23 L236.50,608.17 L237.50,609.02 L238.50,609.77 L239.50,610.44 L240.50,611.01 L241.50,611.49 L242.50,611.87 L243.50,612.17 L244.50,612.39 L245.50,612.52 L246.50,612.58 L247.50,612.57 L248.50,612.50 L249.50,612.36 L250.50,612.16 L251.50,611.91 L252.50,611.61 L253.50,611.27 L254.50,610.88 L255.50,610.46 L256.50,610.01 L257.50,609.53 L258.50,609.02 L259.50,608.49 L260.50,607.95 L261.50,607.40 L262.50,606.84 L263.50,606.27 L264.50,605.71 L265.50,605.15 L266.50,604.61 L267.50,604.07 L268.50,603.55 L269.50,603.03 L270.50,602.53 L271.50,602.03 L272.50,601.55 L273.50,601.08 L274.50,600.62 L275.50,600.17 L276.50,599.73 L277.50,599.30 L278.50,598.88 L279.50,598.47 L280.50,598.08 L281.50,597.69 L282.50,597.32 L283.50,596.95 L284.50,596.60 L285.50,596.26 L286.50,595.94 L287.50,595.62 L288.50,595.31 L289.50,595.02 L290.50,594.74 L291.50,594.47 L292.50,594.21 L293.50,593.96 L294.50,593.72 L295.50,593.50 L296.50,593.29 L297.50,593.09 L298.50,592.91 L299.50,592.73 L300.50,592.58 L301.50,592.43 L302.50,592.30 L303.50,592.19 L304.50,592.08 L305.50,592.00 L306.50,591.93 L307.50,591.87 L308.50,591.83 L309.50,591.81 L310.50,591.80 L311.50,591.81 L312.50,591.83 L313.50,591.88 L314.50,591.94 L315.50,592.01 L316.50,592.11 L317.50,592.22 L318.50,592.36 L319.50,592.51 L320.50,592.68 L321.50,592.87 L322.50,593.07 L323.50,593.30 L324.50,593.55 L325.50,593.82 L326.50,594.11 L327.50,594.42 L328.50,594.75 L329.50,595.11 L330.50,595.48 L331.50,595.88 L332.50,596.30 L333.50,596.74 L334.50,597.20 L335.50,597.69 L336.50,598.20 L337.50,598.72 L338.50,599.27 L339.50,599.84 L340.50,600.43 L341.50,601.03 L342.50,601.65 L343.50,602.29 L344.50,602.94 L345.50,603.61 L346.50,604.30 L347.50,605.00 L348.50,605.71 L349.50,606.43 L350.50,607.16 L351.50,607.91 L352.50,608.67 L353.50,609.43 L354.50,610.21 L355.50,610.99 L356.50,611.78 L357.50,612.58 L358.50,613.38 L359.50,614.19 L360.50,615.01 L361.50,615.83 L362.50,616.65 L363.50,617.47 L364.50,618.28 L365.50,619.10 L366.50,619.91 L367.50,620.72 L368.50,621.51 L369.50,622.30 L370.50,623.08 L371.50,623.84 L372.50,624.60 L373.50,625.33 L374.50,626.05 L375.50,626.75 L376.50,627.43 L377.50,628.08 L378.50,628.72 L379.50,629.33 L380.50,629.91 L381.50,630.47 L382.50,631.00 L383.50,631.51 L384.50,632.00 L385.50,632.47 L386.50,632.92 L387.50,633.35 L388.50,633.77 L389.50,634.16 L390.50,634.54 L391.50,634.91 L392.50,635.26 L393.50,635.61 L394.50,635.93 L395.50,636.25 L396.50,636.56 L397.50,636.86 L398.50,637.16 L399.50,637.45 L400.50,637.73 L401.50,638.01 L402.50,638.28 L403.50,638.55 L404.50,638.82 L405.50,639.09 L406.50,639.37 L407.50,639.64 L408.50,639.91 L409.50,640.19 L410.50,640.48 L411.50,640.77 L412.50,641.07 L413.50,641.37 L414.50,641.68 L415.50,641.99 L416.50,642.31 L417.50,642.62 L418.50,642.94 L419.50,643.26 L420.50,643.57 L421.50,643.88 L422.50,644.18 L423.50,644.48 L424.50,644.76 L425.50,645.04 L426.50,645.31 L427.50,645.57 L428.50,645.81 L429.50,646.03 L430.50,646.25 L431.50,646.44 L432.50,646.61 L433.50,646.77 L434.50,646.90 L435.50,647.01 L436.50,647.09 L437.50,647.16 L438.50,647.20 L439.50,647.21 L440.50,647.21 L441.50,647.18 L442.50,647.14 L443.50,647.07 L444.50,646.98 L445.50,646.88 L446.50,646.75 L447.50,646.61 L448.50,646.45 L449.50,646.27 L450.50,646.08 L451.50,645.87 L452.50,645.64 L453.50,645.40 L454.50,645.15 L455.50,644.88 L456.50,644.60 L457.50,644.31 L458.50,644.01 L459.50,643.70 L460.50,643.40 L461.50,643.10 L462.50,642.81 L463.50,642.52 L464.50,642.25 L465.50,642.00 L466.50,641.77 L467.50,641.54 L468.50,641.32 L469.50,641.10 L470.50,640.87 L471.50,640.63 L472.50,640.36 L473.50,640.06 L474.50,639.72 L475.50,639.35 L476.50,638.92 L477.50,638.43 L478.50,637.88 L479.50,637.25 L480.50,636.55 L481.50,635.76 L482.50,634.88 L483.50,633.90 L484.50,632.84 L485.50,631.70 L486.50,630.51 L487.50,629.29 L488.50,628.06 L489.50,626.83 L490.50,625.63 L491.50,624.47 L492.50,623.38 L493.50,622.36 L494.50,621.45 L495.50,620.65 L496.50,620.00 L497.50,619.49 L498.50,619.14 L499.50,618.94 L500.50,618.89 L501.50,619.00 L502.50,619.25 L503.50,619.65 L504.50,620.20 L505.50,620.90 L506.50,621.73 L507.50,622.69 L508.50,623.77 L509.50,624.95 L510.50,626.22 L511.50,627.56 L512.50,628.97 L513.50,630.42 L514.50,631.92 L515.50,633.44 L516.50,634.97 L517.50,636.49 L518.50,638.01 L519.50,639.49 L520.50,640.94 L521.50,642.34 L522.50,643.69 L523.50,644.99 L524.50,646.24 L525.50,647.42 L526.50,648.54 L527.50,649.60 L528.50,650.58 L529.50,651.50 L530.50,652.35 L531.50,653.14 L532.50,653.87 L533.50,654.54 L534.50,655.16 L535.50,655.73 L536.50,656.25 L537.50,656.73 L538.50,657.16 L539.50,657.56 L540.50,657.92 L541.50,658.24 L542.50,658.53 L543.50,658.79 L544.50,659.02 L545.50,659.22 L546.50,659.40 L547.50,659.53 L548.50,659.64 L549.50,659.72 L550.50,659.77 L551.50,659.78 L552.50,659.76 L553.50,659.71 L554.50,659.63 L555.50,659.51 L556.50,659.36 L557.50,659.18 L558.50,658.96 L559.50,658.71 L560.50,658.43 L561.50,658.11 L562.50,657.76 L563.50,657.38 L564.50,656.95 L565.50,656.50 L566.50,656.01 L567.50,655.48 L568.50,654.92 L569.50,654.32 L570.50,653.69 L571.50,653.01 L572.50,652.31 L573.50,651.56 L574.50,650.78 L575.50,649.96 L576.50,649.11 L577.50,648.21 L578.50,647.28 L579.50,646.31 L580.50,645.30 L581.50,644.26 L582.50,643.17 L583.50,642.06 L584.50,640.92 L585.50,639.76 L586.50,638.58 L587.50,637.38 L588.50,636.17 L589.50,634.96 L590.50,633.74 L591.50,632.53 L592.50,631.32 L593.50,630.12 L594.50,628.94 L595.50,627.78 L596.50,626.64 L597.50,625.52 L598.50,624.44 L599.50,623.39 L600.50,622.38 L601.50,621.42 L602.50,620.50 L603.50,619.63 L604.50,618.82 L605.50,618.07 L606.50,617.39 L607.50,616.77 L608.50,616.23 L609.50,615.76 L610.50,615.36 L611.50,615.04 L612.50,614.79 L613.50,614.62 L614.50,614.52 L615.50,614.50 L616.50,614.55 L617.50,614.68 L618.50,614.88 L619.50,615.16 L620.50,615.52 L621.50,615.93 L622.50,616.37 L623.50,616.84 L624.50,617.31 L625.50,617.75 L626.50,618.15 L627.50,618.50 L628.50,618.76 L629.50,618.93 L630.50,618.98 L631.50,618.89 L632.50,618.65 L633.50,618.23 L634.50,617.64 L635.50,616.91 L636.50,616.06 L637.50,615.12 L638.50,614.13 L639.50,613.11 L640.50,612.09 L641.50,611.09 L642.50,610.15 L643.50,609.29 L644.50,608.54 L645.50,607.94 L646.50,607.50 L646.80,607.40" fill="none" stroke="#0a0a0a" stroke-width="2.80" stroke-linejoin="round" stroke-linecap="round"/>
<path d="M62.50,737.43 L63.50,736.34 L64.50,735.25 L65.50,734.16 L66.50,733.06 L67.50,731.94 L68.50,730.80 L69.50,729.63 L70.50,728.41 L71.50,727.14 L72.50,725.82 L73.50,724.43 L74.50,722.96 L75.50,721.41 L76.50,719.77 L77.50,718.02 L78.50,716.17 L79.50,714.21 L80.50,712.11 L81.50,709.89 L82.50,707.52 L83.50,705.00 L84.50,702.33 L85.50,699.49 L86.50,696.48 L87.50,693.34 L88.50,690.10 L89.50,686.78 L90.50,683.42 L91.50,680.06 L92.50,676.71 L93.50,673.41 L94.50,670.21 L95.50,667.11 L96.50,664.16 L97.50,661.39 L98.50,658.81 L99.50,656.41 L100.50,654.19 L101.50,652.15 L102.50,650.27 L103.50,648.57 L104.50,647.02 L105.50,645.64 L106.50,644.40 L107.50,643.32 L108.50,642.38 L109.50,641.58 L110.50,640.92 L111.50,640.39 L112.50,639.99 L113.50,639.71 L114.50,639.55 L115.50,639.50 L116.50,639.57 L117.50,639.74 L118.50,640.01 L119.50,640.38 L120.50,640.85 L121.50,641.40 L122.50,642.04 L123.50,642.75 L124.50,643.54 L125.50,644.41 L126.50,645.34 L127.50,646.33 L128.50,647.39 L129.50,648.49 L130.50,649.65 L131.50,650.85 L132.50,652.10 L133.50,653.38 L134.50,654.69 L135.50,656.03 L136.50,657.40 L137.50,658.80 L138.50,660.21 L139.50,661.64 L140.50,663.09 L141.50,664.55 L142.50,666.02 L143.50,667.49 L144.50,668.97 L145.50,670.45 L146.50,671.93 L147.50,673.40 L148.50,674.87 L149.50,676.32 L150.50,677.76 L151.50,679.19 L152.50,680.59 L153.50,681.98 L154.50,683.34 L155.50,684.68 L156.50,686.01 L157.50,687.34 L158.50,688.66 L159.50,689.96 L160.50,691.24 L161.50,692.48 L162.50,693.65 L163.50,694.74 L164.50,695.72 L165.50,696.59 L166.50,697.32 L167.50,697.90 L168.50,698.31 L169.50,698.52 L170.50,698.53 L171.50,698.31 L172.50,697.87 L173.50,697.20 L174.50,696.31 L175.50,695.20 L176.50,693.88 L177.50,692.34 L178.50,690.59 L179.50,688.63 L180.50,686.47 L181.50,684.10 L182.50,681.53 L183.50,678.80 L184.50,675.93 L185.50,672.95 L186.50,669.88 L187.50,666.77 L188.50,663.62 L189.50,660.48 L190.50,657.37 L191.50,654.33 L192.50,651.37 L193.50,648.53 L194.50,645.81 L195.50,643.23 L196.50,640.79 L197.50,638.49 L198.50,636.32 L199.50,634.30 L200.50,632.43 L201.50,630.70 L202.50,629.13 L203.50,627.71 L204.50,626.45 L205.50,625.35 L206.50,624.41 L207.50,623.63 L208.50,623.02 L209.50,622.58 L210.50,622.32 L211.50,622.23 L212.50,622.31 L213.50,622.58 L214.50,623.02 L215.50,623.65 L216.50,624.47 L217.50,625.47 L218.50,626.65 L219.50,628.03 L220.50,629.59 L221.50,631.35 L222.50,633.30 L223.50,635.43 L224.50,637.71 L225.50,640.11 L226.50,642.59 L227.50,645.12 L228.50,647.68 L229.50,650.23 L230.50,652.73 L231.50,655.17 L232.50,657.50 L233.50,659.70 L234.50,661.74 L235.50,663.61 L236.50,665.31 L237.50,666.83 L238.50,668.19 L239.50,669.37 L240.50,670.38 L241.50,671.23 L242.50,671.93 L243.50,672.50 L244.50,672.95 L245.50,673.28 L246.50,673.52 L247.50,673.67 L248.50,673.76 L249.50,673.78 L250.50,673.76 L251.50,673.70 L252.50,673.62 L253.50,673.54 L254.50,673.45 L255.50,673.36 L256.50,673.26 L257.50,673.17 L258.50,673.07 L259.50,672.97 L260.50,672.87 L261.50,672.76 L262.50,672.66 L263.50,672.55 L264.50,672.44 L265.50,672.33 L266.50,672.22 L267.50,672.11 L268.50,671.99 L269.50,671.88 L270.50,671.76 L271.50,671.65 L272.50,671.53 L273.50,671.41 L274.50,671.29 L275.50,671.17 L276.50,671.05 L277.50,670.93 L278.50,670.81 L279.50,670.69 L280.50,670.57 L281.50,670.45 L282.50,670.33 L283.50,670.20 L284.50,670.08 L285.50,669.96 L286.50,669.84 L287.50,669.72 L288.50,669.60 L289.50,669.48 L290.50,669.36 L291.50,669.25 L292.50,669.13 L293.50,669.01 L294.50,668.90 L295.50,668.79 L296.50,668.68 L297.50,668.57 L298.50,668.47 L299.50,668.38 L300.50,668.29 L301.50,668.21 L302.50,668.14 L303.50,668.08 L304.50,668.03 L305.50,668.00 L306.50,667.97 L307.50,667.96 L308.50,667.96 L309.50,667.98 L310.50,668.01 L311.50,668.06 L312.50,668.13 L313.50,668.22 L314.50,668.32 L315.50,668.45 L316.50,668.60 L317.50,668.77 L318.50,668.96 L319.50,669.18 L320.50,669.41 L321.50,669.66 L322.50,669.94 L323.50,670.24 L324.50,670.55 L325.50,670.89 L326.50,671.24 L327.50,671.61 L328.50,672.01 L329.50,672.42 L330.50,672.85 L331.50,673.30 L332.50,673.76 L333.50,674.24 L334.50,674.74 L335.50,675.26 L336.50,675.79 L337.50,676.34 L338.50,676.91 L339.50,677.49 L340.50,678.09 L341.50,678.70 L342.50,679.33 L343.50,679.97 L344.50,680.63 L345.50,681.30 L346.50,681.98 L347.50,682.68 L348.50,683.39 L349.50,684.12 L350.50,684.86 L351.50,685.61 L352.50,686.37 L353.50,687.14 L354.50,687.92 L355.50,688.70 L356.50,689.49 L357.50,690.29 L358.50,691.08 L359.50,691.88 L360.50,692.68 L361.50,693.48 L362.50,694.27 L363.50,695.06 L364.50,695.85 L365.50,696.62 L366.50,697.39 L367.50,698.15 L368.50,698.90 L369.50,699.64 L370.50,700.36 L371.50,701.07 L372.50,701.77 L373.50,702.44 L374.50,703.10 L375.50,703.73 L376.50,704.35 L377.50,704.94 L378.50,705.51 L379.50,706.05 L380.50,706.57 L381.50,707.06 L382.50,707.53 L383.50,707.97 L384.50,708.40 L385.50,708.81 L386.50,709.20 L387.50,709.57 L388.50,709.93 L389.50,710.27 L390.50,710.60 L391.50,710.92 L392.50,711.23 L393.50,711.53 L394.50,711.82 L395.50,712.11 L396.50,712.39 L397.50,712.67 L398.50,712.95 L399.50,713.22 L400.50,713.50 L401.50,713.78 L402.50,714.06 L403.50,714.33 L404.50,714.61 L405.50,714.89 L406.50,715.17 L407.50,715.44 L408.50,715.71 L409.50,715.98 L410.50,716.24 L411.50,716.50 L412.50,716.75 L413.50,716.99 L414.50,717.23 L415.50,717.45 L416.50,717.67 L417.50,717.88 L418.50,718.08 L419.50,718.27 L420.50,718.45 L421.50,718.61 L422.50,718.77 L423.50,718.90 L424.50,719.03 L425.50,719.14 L426.50,719.23 L427.50,719.31 L428.50,719.37 L429.50,719.41 L430.50,719.43 L431.50,719.43 L432.50,719.42 L433.50,719.38 L434.50,719.32 L435.50,719.24 L436.50,719.14 L437.50,719.02 L438.50,718.87 L439.50,718.71 L440.50,718.53 L441.50,718.33 L442.50,718.12 L443.50,717.89 L444.50,717.65 L445.50,717.40 L446.50,717.14 L447.50,716.87 L448.50,716.59 L449.50,716.30 L450.50,716.01 L451.50,715.71 L452.50,715.41 L453.50,715.11 L454.50,714.80 L455.50,714.50 L456.50,714.19 L457.50,713.89 L458.50,713.59 L459.50,713.29 L460.50,712.98 L461.50,712.69 L462.50,712.39 L463.50,712.09 L464.50,711.79 L465.50,711.49 L466.50,711.19 L467.50,710.89 L468.50,710.60 L469.50,710.30 L470.50,710.00 L471.50,709.70 L472.50,709.39 L473.50,709.09 L474.50,708.79 L475.50,708.48 L476.50,708.17 L477.50,707.82 L478.50,707.43 L479.50,706.96 L480.50,706.39 L481.50,705.72 L482.50,704.91 L483.50,703.97 L484.50,702.92 L485.50,701.77 L486.50,700.55 L487.50,699.28 L488.50,697.97 L489.50,696.64 L490.50,695.32 L491.50,694.01 L492.50,692.75 L493.50,691.55 L494.50,690.43 L495.50,689.41 L496.50,688.51 L497.50,687.73 L498.50,687.10 L499.50,686.61 L500.50,686.27 L501.50,686.08 L502.50,686.03 L503.50,686.15 L504.50,686.42 L505.50,686.86 L506.50,687.46 L507.50,688.24 L508.50,689.18 L509.50,690.30 L510.50,691.55 L511.50,692.92 L512.50,694.39 L513.50,695.94 L514.50,697.55 L515.50,699.18 L516.50,700.83 L517.50,702.47 L518.50,704.07 L519.50,705.62 L520.50,707.09 L521.50,708.47 L522.50,709.72 L523.50,710.83 L524.50,711.79 L525.50,712.62 L526.50,713.34 L527.50,714.01 L528.50,714.64 L529.50,715.28 L530.50,715.96 L531.50,716.67 L532.50,717.42 L533.50,718.17 L534.50,718.92 L535.50,719.64 L536.50,720.32 L537.50,720.93 L538.50,721.45 L539.50,721.87 L540.50,722.16 L541.50,722.31 L542.50,722.28 L543.50,722.07 L544.50,721.68 L545.50,721.14 L546.50,720.45 L547.50,719.63 L548.50,718.69 L549.50,717.65 L550.50,716.52 L551.50,715.32 L552.50,714.06 L553.50,712.76 L554.50,711.42 L555.50,710.07 L556.50,708.71 L557.50,707.37 L558.50,706.08 L559.50,704.87 L560.50,703.79 L561.50,702.88 L562.50,702.18 L563.50,701.72 L564.50,701.55 L565.50,701.64 L566.50,701.95 L567.50,702.42 L568.50,703.01 L569.50,703.67 L570.50,704.33 L571.50,704.97 L572.50,705.54 L573.50,706.04 L574.50,706.46 L575.50,706.79 L576.50,707.03 L577.50,707.15 L578.50,707.16 L579.50,707.04 L580.50,706.78 L581.50,706.40 L582.50,705.89 L583.50,705.27 L584.50,704.55 L585.50,703.74 L586.50,702.86 L587.50,701.90 L588.50,700.89 L589.50,699.83 L590.50,698.74 L591.50,697.62 L592.50,696.49 L593.50,695.36 L594.50,694.23 L595.50,693.12 L596.50,692.04 L597.50,691.00 L598.50,690.01 L599.50,689.08 L600.50,688.19 L601.50,687.37 L602.50,686.60 L603.50,685.90 L604.50,685.26 L605.50,684.69 L606.50,684.19 L607.50,683.75 L608.50,683.39 L609.50,683.11 L610.50,682.90 L611.50,682.77 L612.50,682.72 L613.50,682.75 L614.50,682.86 L615.50,683.04 L616.50,683.28 L617.50,683.58 L618.50,683.92 L619.50,684.29 L620.50,684.69 L621.50,685.12 L622.50,685.55 L623.50,685.99 L624.50,686.43 L625.50,686.85 L626.50,687.25 L627.50,687.62 L628.50,687.96 L629.50,688.25 L630.50,688.48 L631.50,688.66 L632.50,688.77 L633.50,688.80 L634.50,688.74 L635.50,688.59 L636.50,688.33 L637.50,687.97 L638.50,687.49 L639.50,686.88 L640.50,686.13 L641.50,685.24 L642.50,684.21 L643.50,683.01 L644.50,681.64 L645.50,680.10 L646.50,678.38 L646.80,677.82" fill="none" stroke="#dc1c1c" stroke-width="2.80" stroke-linejoin="round" stroke-linecap="round"/>
<path d="M62.50,805.65 L63.50,804.53 L64.50,803.40 L65.50,802.26 L66.50,801.11 L67.50,799.95 L68.50,798.77 L69.50,797.56 L70.50,796.32 L71.50,795.05 L72.50,793.74 L73.50,792.38 L74.50,790.98 L75.50,789.52 L76.50,788.01 L77.50,786.43 L78.50,784.78 L79.50,783.05 L80.50,781.23 L81.50,779.31 L82.50,777.27 L83.50,775.11 L84.50,772.82 L85.50,770.41 L86.50,767.88 L87.50,765.28 L88.50,762.60 L89.50,759.89 L90.50,757.15 L91.50,754.40 L92.50,751.68 L93.50,749.00 L94.50,746.37 L95.50,743.83 L96.50,741.38 L97.50,739.03 L98.50,736.79 L99.50,734.66 L100.50,732.65 L101.50,730.77 L102.50,729.02 L103.50,727.41 L104.50,725.95 L105.50,724.64 L106.50,723.49 L107.50,722.51 L108.50,721.69 L109.50,721.02 L110.50,720.50 L111.50,720.13 L112.50,719.88 L113.50,719.75 L114.50,719.74 L115.50,719.83 L116.50,720.01 L117.50,720.28 L118.50,720.63 L119.50,721.05 L120.50,721.54 L121.50,722.07 L122.50,722.65 L123.50,723.26 L124.50,723.90 L125.50,724.58 L126.50,725.29 L127.50,726.03 L128.50,726.80 L129.50,727.60 L130.50,728.43 L131.50,729.28 L132.50,730.16 L133.50,731.07 L134.50,732.00 L135.50,732.95 L136.50,733.93 L137.50,734.92 L138.50,735.94 L139.50,736.97 L140.50,738.03 L141.50,739.10 L142.50,740.19 L143.50,741.30 L144.50,742.42 L145.50,743.55 L146.50,744.70 L147.50,745.86 L148.50,747.03 L149.50,748.21 L150.50,749.40 L151.50,750.60 L152.50,751.81 L153.50,753.03 L154.50,754.25 L155.50,755.47 L156.50,756.70 L157.50,757.93 L158.50,759.17 L159.50,760.40 L160.50,761.64 L161.50,762.88 L162.50,764.11 L163.50,765.34 L164.50,766.57 L165.50,767.78 L166.50,768.97 L167.50,770.13 L168.50,771.25 L169.50,772.32 L170.50,773.32 L171.50,774.26 L172.50,775.11 L173.50,775.88 L174.50,776.54 L175.50,777.10 L176.50,777.54 L177.50,777.87 L178.50,778.08 L179.50,778.18 L180.50,778.16 L181.50,778.04 L182.50,777.81 L183.50,777.47 L184.50,777.03 L185.50,776.49 L186.50,775.84 L187.50,775.09 L188.50,774.25 L189.50,773.32 L190.50,772.31 L191.50,771.23 L192.50,770.10 L193.50,768.91 L194.50,767.69 L195.50,766.45 L196.50,765.18 L197.50,763.90 L198.50,762.63 L199.50,761.37 L200.50,760.13 L201.50,758.93 L202.50,757.76 L203.50,756.64 L204.50,755.58 L205.50,754.57 L206.50,753.62 L207.50,752.72 L208.50,751.90 L209.50,751.14 L210.50,750.45 L211.50,749.84 L212.50,749.32 L213.50,748.90 L214.50,748.58 L215.50,748.38 L216.50,748.30 L217.50,748.35 L218.50,748.54 L219.50,748.89 L220.50,749.39 L221.50,750.03 L222.50,750.79 L223.50,751.66 L224.50,752.61 L225.50,753.63 L226.50,754.71 L227.50,755.82 L228.50,756.94 L229.50,758.06 L230.50,759.17 L231.50,760.23 L232.50,761.25 L233.50,762.23 L234.50,763.14 L235.50,764.00 L236.50,764.78 L237.50,765.50 L238.50,766.13 L239.50,766.68 L240.50,767.14 L241.50,767.50 L242.50,767.76 L243.50,767.91 L244.50,767.96 L245.50,767.90 L246.50,767.76 L247.50,767.54 L248.50,767.26 L249.50,766.93 L250.50,766.56 L251.50,766.17 L252.50,765.76 L253.50,765.35 L254.50,764.95 L255.50,764.57 L256.50,764.20 L257.50,763.85 L258.50,763.50 L259.50,763.17 L260.50,762.84 L261.50,762.53 L262.50,762.21 L263.50,761.91 L264.50,761.60 L265.50,761.30 L266.50,760.99 L267.50,760.69 L268.50,760.39 L269.50,760.09 L270.50,759.79 L271.50,759.50 L272.50,759.20 L273.50,758.91 L274.50,758.62 L275.50,758.34 L276.50,758.05 L277.50,757.77 L278.50,757.49 L279.50,757.21 L280.50,756.94 L281.50,756.67 L282.50,756.41 L283.50,756.15 L284.50,755.89 L285.50,755.64 L286.50,755.39 L287.50,755.15 L288.50,754.91 L289.50,754.68 L290.50,754.45 L291.50,754.23 L292.50,754.01 L293.50,753.80 L294.50,753.60 L295.50,753.40 L296.50,753.21 L297.50,753.03 L298.50,752.86 L299.50,752.69 L300.50,752.54 L301.50,752.40 L302.50,752.26 L303.50,752.14 L304.50,752.02 L305.50,751.92 L306.50,751.83 L307.50,751.76 L308.50,751.69 L309.50,751.64 L310.50,751.60 L311.50,751.58 L312.50,751.57 L313.50,751.57 L314.50,751.59 L315.50,751.63 L316.50,751.68 L317.50,751.75 L318.50,751.84 L319.50,751.94 L320.50,752.07 L321.50,752.21 L322.50,752.36 L323.50,752.54 L324.50,752.74 L325.50,752.96 L326.50,753.20 L327.50,753.46 L328.50,753.74 L329.50,754.04 L330.50,754.36 L331.50,754.71 L332.50,755.08 L333.50,755.47 L334.50,755.89 L335.50,756.33 L336.50,756.79 L337.50,757.27 L338.50,757.77 L339.50,758.29 L340.50,758.83 L341.50,759.38 L342.50,759.95 L343.50,760.53 L344.50,761.13 L345.50,761.74 L346.50,762.37 L347.50,763.00 L348.50,763.65 L349.50,764.30 L350.50,764.96 L351.50,765.64 L352.50,766.31 L353.50,767.00 L354.50,767.69 L355.50,768.38 L356.50,769.07 L357.50,769.77 L358.50,770.47 L359.50,771.17 L360.50,771.87 L361.50,772.57 L362.50,773.27 L363.50,773.96 L364.50,774.65 L365.50,775.33 L366.50,776.01 L367.50,776.68 L368.50,777.34 L369.50,777.99 L370.50,778.64 L371.50,779.27 L372.50,779.89 L373.50,780.50 L374.50,781.10 L375.50,781.68 L376.50,782.25 L377.50,782.80 L378.50,783.34 L379.50,783.86 L380.50,784.36 L381.50,784.83 L382.50,785.29 L383.50,785.73 L384.50,786.15 L385.50,786.54 L386.50,786.92 L387.50,787.28 L388.50,787.62 L389.50,787.94 L390.50,788.25 L391.50,788.55 L392.50,788.83 L393.50,789.10 L394.50,789.36 L395.50,789.61 L396.50,789.85 L397.50,790.08 L398.50,790.30 L399.50,790.52 L400.50,790.74 L401.50,790.95 L402.50,791.15 L403.50,791.36 L404.50,791.57 L405.50,791.77 L406.50,791.98 L407.50,792.19 L408.50,792.40 L409.50,792.62 L410.50,792.84 L411.50,793.06 L412.50,793.28 L413.50,793.51 L414.50,793.73 L415.50,793.96 L416.50,794.18 L417.50,794.39 L418.50,794.60 L419.50,794.81 L420.50,795.01 L421.50,795.20 L422.50,795.38 L423.50,795.55 L424.50,795.71 L425.50,795.86 L426.50,796.00 L427.50,796.12 L428.50,796.22 L429.50,796.31 L430.50,796.38 L431.50,796.43 L432.50,796.46 L433.50,796.48 L434.50,796.47 L435.50,796.45 L436.50,796.41 L437.50,796.36 L438.50,796.28 L439.50,796.19 L440.50,796.08 L441.50,795.96 L442.50,795.82 L443.50,795.66 L444.50,795.49 L445.50,795.30 L446.50,795.09 L447.50,794.88 L448.50,794.64 L449.50,794.39 L450.50,794.13 L451.50,793.85 L452.50,793.56 L453.50,793.25 L454.50,792.94 L455.50,792.60 L456.50,792.26 L457.50,791.91 L458.50,791.56 L459.50,791.22 L460.50,790.89 L461.50,790.57 L462.50,790.28 L463.50,790.02 L464.50,789.79 L465.50,789.60 L466.50,789.44 L467.50,789.31 L468.50,789.19 L469.50,789.07 L470.50,788.96 L471.50,788.84 L472.50,788.71 L473.50,788.55 L474.50,788.37 L475.50,788.15 L476.50,787.88 L477.50,787.56 L478.50,787.19 L479.50,786.75 L480.50,786.24 L481.50,785.64 L482.50,784.96 L483.50,784.18 L484.50,783.32 L485.50,782.39 L486.50,781.40 L487.50,780.38 L488.50,779.34 L489.50,778.29 L490.50,777.24 L491.50,776.23 L492.50,775.25 L493.50,774.33 L494.50,773.47 L495.50,772.71 L496.50,772.05 L497.50,771.51 L498.50,771.09 L499.50,770.81 L500.50,770.66 L501.50,770.63 L502.50,770.73 L503.50,770.96 L504.50,771.31 L505.50,771.79 L506.50,772.39 L507.50,773.11 L508.50,773.94 L509.50,774.87 L510.50,775.88 L511.50,776.98 L512.50,778.13 L513.50,779.34 L514.50,780.59 L515.50,781.86 L516.50,783.16 L517.50,784.46 L518.50,785.75 L519.50,787.02 L520.50,788.27 L521.50,789.47 L522.50,790.63 L523.50,791.74 L524.50,792.79 L525.50,793.80 L526.50,794.76 L527.50,795.67 L528.50,796.53 L529.50,797.34 L530.50,798.10 L531.50,798.82 L532.50,799.49 L533.50,800.11 L534.50,800.69 L535.50,801.22 L536.50,801.72 L537.50,802.16 L538.50,802.57 L539.50,802.94 L540.50,803.27 L541.50,803.56 L542.50,803.81 L543.50,804.02 L544.50,804.20 L545.50,804.34 L546.50,804.45 L547.50,804.52 L548.50,804.56 L549.50,804.57 L550.50,804.55 L551.50,804.50 L552.50,804.41 L553.50,804.30 L554.50,804.16 L555.50,804.00 L556.50,803.80 L557.50,803.58 L558.50,803.33 L559.50,803.05 L560.50,802.75 L561.50,802.42 L562.50,802.07 L563.50,801.69 L564.50,801.28 L565.50,800.86 L566.50,800.40 L567.50,799.93 L568.50,799.43 L569.50,798.91 L570.50,798.37 L571.50,797.80 L572.50,797.22 L573.50,796.61 L574.50,795.98 L575.50,795.34 L576.50,794.67 L577.50,793.98 L578.50,793.28 L579.50,792.55 L580.50,791.81 L581.50,791.05 L582.50,790.28 L583.50,789.48 L584.50,788.67 L585.50,787.85 L586.50,787.00 L587.50,786.15 L588.50,785.28 L589.50,784.39 L590.50,783.50 L591.50,782.60 L592.50,781.70 L593.50,780.80 L594.50,779.91 L595.50,779.02 L596.50,778.15 L597.50,777.28 L598.50,776.44 L599.50,775.62 L600.50,774.83 L601.50,774.06 L602.50,773.33 L603.50,772.63 L604.50,771.96 L605.50,771.34 L606.50,770.77 L607.50,770.25 L608.50,769.77 L609.50,769.36 L610.50,769.00 L611.50,768.70 L612.50,768.47 L613.50,768.31 L614.50,768.22 L615.50,768.21 L616.50,768.27 L617.50,768.42 L618.50,768.66 L619.50,768.97 L620.50,769.35 L621.50,769.78 L622.50,770.23 L623.50,770.70 L624.50,771.16 L625.50,771.60 L626.50,771.99 L627.50,772.33 L628.50,772.59 L629.50,772.76 L630.50,772.82 L631.50,772.75 L632.50,772.53 L633.50,772.18 L634.50,771.70 L635.50,771.12 L636.50,770.44 L637.50,769.69 L638.50,768.88 L639.50,768.02 L640.50,767.14 L641.50,766.24 L642.50,765.35 L643.50,764.48 L644.50,763.64 L645.50,762.86 L646.50,762.14 L646.80,761.94" fill="none" stroke="#1c1ccc" stroke-width="2.80" stroke-linejoin="round" stroke-linecap="round"/>
<path d="M62.50,871.83 L63.50,871.09 L64.50,870.30 L65.50,869.46 L66.50,868.57 L67.50,867.64 L68.50,866.66 L69.50,865.63 L70.50,864.57 L71.50,863.45 L72.50,862.30 L73.50,861.10 L74.50,859.85 L75.50,858.57 L76.50,857.25 L77.50,855.88 L78.50,854.46 L79.50,852.94 L80.50,851.32 L81.50,849.55 L82.50,847.62 L83.50,845.50 L84.50,843.16 L85.50,840.61 L86.50,837.88 L87.50,835.01 L88.50,832.03 L89.50,828.97 L90.50,825.88 L91.50,822.79 L92.50,819.73 L93.50,816.74 L94.50,813.84 L95.50,811.09 L96.50,808.49 L97.50,806.04 L98.50,803.73 L99.50,801.57 L100.50,799.55 L101.50,797.66 L102.50,795.91 L103.50,794.29 L104.50,792.79 L105.50,791.42 L106.50,790.17 L107.50,789.04 L108.50,788.01 L109.50,787.10 L110.50,786.30 L111.50,785.60 L112.50,785.00 L113.50,784.49 L114.50,784.08 L115.50,783.76 L116.50,783.53 L117.50,783.38 L118.50,783.31 L119.50,783.32 L120.50,783.40 L121.50,783.55 L122.50,783.77 L123.50,784.05 L124.50,784.39 L125.50,784.79 L126.50,785.24 L127.50,785.74 L128.50,786.29 L129.50,786.89 L130.50,787.54 L131.50,788.22 L132.50,788.95 L133.50,789.71 L134.50,790.52 L135.50,791.36 L136.50,792.23 L137.50,793.13 L138.50,794.06 L139.50,795.02 L140.50,796.00 L141.50,797.01 L142.50,798.04 L143.50,799.08 L144.50,800.15 L145.50,801.23 L146.50,802.32 L147.50,803.43 L148.50,804.54 L149.50,805.66 L150.50,806.79 L151.50,807.92 L152.50,809.05 L153.50,810.19 L154.50,811.32 L155.50,812.44 L156.50,813.56 L157.50,814.68 L158.50,815.78 L159.50,816.88 L160.50,817.96 L161.50,819.03 L162.50,820.08 L163.50,821.11 L164.50,822.13 L165.50,823.12 L166.50,824.09 L167.50,825.03 L168.50,825.93 L169.50,826.79 L170.50,827.62 L171.50,828.40 L172.50,829.12 L173.50,829.80 L174.50,830.42 L175.50,830.98 L176.50,831.48 L177.50,831.90 L178.50,832.26 L179.50,832.54 L180.50,832.74 L181.50,832.86 L182.50,832.89 L183.50,832.83 L184.50,832.68 L185.50,832.43 L186.50,832.07 L187.50,831.61 L188.50,831.05 L189.50,830.37 L190.50,829.57 L191.50,828.68 L192.50,827.70 L193.50,826.65 L194.50,825.53 L195.50,824.36 L196.50,823.16 L197.50,821.93 L198.50,820.68 L199.50,819.44 L200.50,818.21 L201.50,817.00 L202.50,815.83 L203.50,814.70 L204.50,813.64 L205.50,812.64 L206.50,811.70 L207.50,810.83 L208.50,810.02 L209.50,809.26 L210.50,808.57 L211.50,807.93 L212.50,807.36 L213.50,806.86 L214.50,806.46 L215.50,806.15 L216.50,805.95 L217.50,805.87 L218.50,805.92 L219.50,806.11 L220.50,806.44 L221.50,806.94 L222.50,807.60 L223.50,808.43 L224.50,809.41 L225.50,810.50 L226.50,811.69 L227.50,812.94 L228.50,814.23 L229.50,815.54 L230.50,816.84 L231.50,818.10 L232.50,819.30 L233.50,820.41 L234.50,821.41 L235.50,822.29 L236.50,823.05 L237.50,823.69 L238.50,824.23 L239.50,824.66 L240.50,825.00 L241.50,825.25 L242.50,825.42 L243.50,825.51 L244.50,825.53 L245.50,825.48 L246.50,825.38 L247.50,825.22 L248.50,825.01 L249.50,824.75 L250.50,824.46 L251.50,824.13 L252.50,823.76 L253.50,823.37 L254.50,822.96 L255.50,822.53 L256.50,822.08 L257.50,821.63 L258.50,821.17 L259.50,820.70 L260.50,820.25 L261.50,819.80 L262.50,819.36 L263.50,818.94 L264.50,818.54 L265.50,818.16 L266.50,817.81 L267.50,817.49 L268.50,817.19 L269.50,816.91 L270.50,816.64 L271.50,816.39 L272.50,816.15 L273.50,815.92 L274.50,815.69 L275.50,815.47 L276.50,815.26 L277.50,815.04 L278.50,814.82 L279.50,814.59 L280.50,814.36 L281.50,814.13 L282.50,813.90 L283.50,813.67 L284.50,813.44 L285.50,813.20 L286.50,812.97 L287.50,812.75 L288.50,812.52 L289.50,812.30 L290.50,812.08 L291.50,811.87 L292.50,811.66 L293.50,811.46 L294.50,811.27 L295.50,811.08 L296.50,810.91 L297.50,810.74 L298.50,810.58 L299.50,810.44 L300.50,810.31 L301.50,810.18 L302.50,810.08 L303.50,809.98 L304.50,809.90 L305.50,809.84 L306.50,809.79 L307.50,809.75 L308.50,809.73 L309.50,809.72 L310.50,809.73 L311.50,809.75 L312.50,809.78 L313.50,809.83 L314.50,809.90 L315.50,809.98 L316.50,810.07 L317.50,810.17 L318.50,810.29 L319.50,810.43 L320.50,810.58 L321.50,810.74 L322.50,810.91 L323.50,811.10 L324.50,811.31 L325.50,811.52 L326.50,811.75 L327.50,812.00 L328.50,812.26 L329.50,812.53 L330.50,812.81 L331.50,813.11 L332.50,813.42 L333.50,813.75 L334.50,814.09 L335.50,814.44 L336.50,814.80 L337.50,815.18 L338.50,815.57 L339.50,815.98 L340.50,816.39 L341.50,816.82 L342.50,817.27 L343.50,817.72 L344.50,818.19 L345.50,818.68 L346.50,819.17 L347.50,819.68 L348.50,820.20 L349.50,820.73 L350.50,821.28 L351.50,821.83 L352.50,822.39 L353.50,822.96 L354.50,823.54 L355.50,824.13 L356.50,824.71 L357.50,825.31 L358.50,825.91 L359.50,826.51 L360.50,827.11 L361.50,827.71 L362.50,828.31 L363.50,828.91 L364.50,829.51 L365.50,830.11 L366.50,830.70 L367.50,831.29 L368.50,831.87 L369.50,832.45 L370.50,833.01 L371.50,833.57 L372.50,834.12 L373.50,834.66 L374.50,835.19 L375.50,835.71 L376.50,836.22 L377.50,836.71 L378.50,837.20 L379.50,837.68 L380.50,838.15 L381.50,838.60 L382.50,839.05 L383.50,839.48 L384.50,839.91 L385.50,840.32 L386.50,840.72 L387.50,841.12 L388.50,841.50 L389.50,841.87 L390.50,842.22 L391.50,842.57 L392.50,842.91 L393.50,843.23 L394.50,843.54 L395.50,843.84 L396.50,844.13 L397.50,844.41 L398.50,844.68 L399.50,844.94 L400.50,845.19 L401.50,845.42 L402.50,845.66 L403.50,845.88 L404.50,846.09 L405.50,846.30 L406.50,846.51 L407.50,846.71 L408.50,846.90 L409.50,847.09 L410.50,847.28 L411.50,847.46 L412.50,847.64 L413.50,847.82 L414.50,848.00 L415.50,848.17 L416.50,848.35 L417.50,848.53 L418.50,848.71 L419.50,848.89 L420.50,849.08 L421.50,849.26 L422.50,849.45 L423.50,849.65 L424.50,849.84 L425.50,850.03 L426.50,850.22 L427.50,850.40 L428.50,850.58 L429.50,850.74 L430.50,850.90 L431.50,851.05 L432.50,851.18 L433.50,851.29 L434.50,851.39 L435.50,851.46 L436.50,851.52 L437.50,851.55 L438.50,851.56 L439.50,851.54 L440.50,851.50 L441.50,851.42 L442.50,851.31 L443.50,851.17 L444.50,851.00 L445.50,850.81 L446.50,850.59 L447.50,850.35 L448.50,850.09 L449.50,849.82 L450.50,849.53 L451.50,849.23 L452.50,848.92 L453.50,848.60 L454.50,848.28 L455.50,847.95 L456.50,847.62 L457.50,847.30 L458.50,846.98 L459.50,846.66 L460.50,846.36 L461.50,846.06 L462.50,845.78 L463.50,845.52 L464.50,845.27 L465.50,845.04 L466.50,844.83 L467.50,844.61 L468.50,844.40 L469.50,844.18 L470.50,843.94 L471.50,843.68 L472.50,843.40 L473.50,843.08 L474.50,842.71 L475.50,842.31 L476.50,841.85 L477.50,841.34 L478.50,840.78 L479.50,840.17 L480.50,839.49 L481.50,838.75 L482.50,837.95 L483.50,837.10 L484.50,836.19 L485.50,835.24 L486.50,834.24 L487.50,833.22 L488.50,832.16 L489.50,831.08 L490.50,830.00 L491.50,828.92 L492.50,827.88 L493.50,826.87 L494.50,825.92 L495.50,825.05 L496.50,824.26 L497.50,823.58 L498.50,823.02 L499.50,822.60 L500.50,822.33 L501.50,822.23 L502.50,822.31 L503.50,822.58 L504.50,823.02 L505.50,823.61 L506.50,824.34 L507.50,825.19 L508.50,826.15 L509.50,827.20 L510.50,828.34 L511.50,829.53 L512.50,830.77 L513.50,832.04 L514.50,833.32 L515.50,834.61 L516.50,835.88 L517.50,837.13 L518.50,838.37 L519.50,839.58 L520.50,840.76 L521.50,841.92 L522.50,843.06 L523.50,844.16 L524.50,845.24 L525.50,846.29 L526.50,847.30 L527.50,848.28 L528.50,849.23 L529.50,850.14 L530.50,851.01 L531.50,851.84 L532.50,852.63 L533.50,853.38 L534.50,854.09 L535.50,854.75 L536.50,855.36 L537.50,855.92 L538.50,856.44 L539.50,856.91 L540.50,857.33 L541.50,857.71 L542.50,858.04 L543.50,858.34 L544.50,858.59 L545.50,858.82 L546.50,859.00 L547.50,859.16 L548.50,859.29 L549.50,859.39 L550.50,859.46 L551.50,859.51 L552.50,859.54 L553.50,859.54 L554.50,859.53 L555.50,859.49 L556.50,859.42 L557.50,859.34 L558.50,859.23 L559.50,859.10 L560.50,858.94 L561.50,858.76 L562.50,858.56 L563.50,858.33 L564.50,858.08 L565.50,857.80 L566.50,857.50 L567.50,857.18 L568.50,856.82 L569.50,856.45 L570.50,856.04 L571.50,855.62 L572.50,855.16 L573.50,854.68 L574.50,854.17 L575.50,853.64 L576.50,853.08 L577.50,852.49 L578.50,851.88 L579.50,851.24 L580.50,850.57 L581.50,849.87 L582.50,849.14 L583.50,848.39 L584.50,847.61 L585.50,846.80 L586.50,845.96 L587.50,845.09 L588.50,844.20 L589.50,843.27 L590.50,842.33 L591.50,841.37 L592.50,840.40 L593.50,839.43 L594.50,838.46 L595.50,837.49 L596.50,836.53 L597.50,835.59 L598.50,834.67 L599.50,833.78 L600.50,832.92 L601.50,832.09 L602.50,831.30 L603.50,830.57 L604.50,829.88 L605.50,829.25 L606.50,828.67 L607.50,828.16 L608.50,827.70 L609.50,827.29 L610.50,826.95 L611.50,826.66 L612.50,826.43 L613.50,826.27 L614.50,826.16 L615.50,826.11 L616.50,826.12 L617.50,826.19 L618.50,826.32 L619.50,826.52 L620.50,826.77 L621.50,827.09 L622.50,827.46 L623.50,827.86 L624.50,828.29 L625.50,828.73 L626.50,829.16 L627.50,829.57 L628.50,829.95 L629.50,830.28 L630.50,830.54 L631.50,830.73 L632.50,830.82 L633.50,830.81 L634.50,830.68 L635.50,830.40 L636.50,829.99 L637.50,829.44 L638.50,828.77 L639.50,828.00 L640.50,827.15 L641.50,826.23 L642.50,825.26 L643.50,824.25 L644.50,823.22 L645.50,822.19 L646.50,821.18 L646.80,820.88" fill="none" stroke="#d81cd8" stroke-width="2.80" stroke-linejoin="round" stroke-linecap="round"/>
<rect x="62.00" y="496.70" width="585.20" height="410.80" fill="none" stroke="#000" stroke-width="2"/>
<line x1="62.00" y1="907.50" x2="62.00" y2="915.50" stroke="#000" stroke-width="2"/>
<text transform="translate(61.60,936.70) scale(0.950,1.000)" font-size="22.60" text-anchor="middle" font-family="'Liberation Sans', sans-serif" font-weight="bold">1400</text>
<line x1="110.77" y1="907.50" x2="110.77" y2="912.00" stroke="#000" stroke-width="2"/>
<line x1="159.53" y1="907.50" x2="159.53" y2="915.50" stroke="#000" stroke-width="2"/>
<text transform="translate(159.13,936.70) scale(0.950,1.000)" font-size="22.60" text-anchor="middle" font-family="'Liberation Sans', sans-serif" font-weight="bold">1350</text>
<line x1="208.30" y1="907.50" x2="208.30" y2="912.00" stroke="#000" stroke-width="2"/>
<line x1="257.07" y1="907.50" x2="257.07" y2="915.50" stroke="#000" stroke-width="2"/>
<text transform="translate(256.67,936.70) scale(0.950,1.000)" font-size="22.60" text-anchor="middle" font-family="'Liberation Sans', sans-serif" font-weight="bold">1300</text>
<line x1="305.83" y1="907.50" x2="305.83" y2="912.00" stroke="#000" stroke-width="2"/>
<line x1="354.60" y1="907.50" x2="354.60" y2="915.50" stroke="#000" stroke-width="2"/>
<text transform="translate(354.20,936.70) scale(0.950,1.000)" font-size="22.60" text-anchor="middle" font-family="'Liberation Sans', sans-serif" font-weight="bold">1250</text>
<line x1="403.37" y1="907.50" x2="403.37" y2="912.00" stroke="#000" stroke-width="2"/>
<line x1="452.13" y1="907.50" x2="452.13" y2="915.50" stroke="#000" stroke-width="2"/>
<text transform="translate(451.73,936.70) scale(0.950,1.000)" font-size="22.60" text-anchor="middle" font-family="'Liberation Sans', sans-serif" font-weight="bold">1200</text>
<line x1="500.90" y1="907.50" x2="500.90" y2="912.00" stroke="#000" stroke-width="2"/>
<line x1="549.67" y1="907.50" x2="549.67" y2="915.50" stroke="#000" stroke-width="2"/>
<text transform="translate(549.27,936.70) scale(0.950,1.000)" font-size="22.60" text-anchor="middle" font-family="'Liberation Sans', sans-serif" font-weight="bold">1150</text>
<line x1="598.43" y1="907.50" x2="598.43" y2="912.00" stroke="#000" stroke-width="2"/>
<line x1="647.20" y1="907.50" x2="647.20" y2="915.50" stroke="#000" stroke-width="2"/>
<text transform="translate(646.80,936.70) scale(0.950,1.000)" font-size="22.60" text-anchor="middle" font-family="'Liberation Sans', sans-serif" font-weight="bold">1100</text>
<text transform="translate(247.10,974.30)" font-size="23.90" font-family="'Liberation Sans', sans-serif" font-weight="bold">Wavenumber</text>
<text transform="translate(405.40,974.00)" font-size="30.50" font-family="'Liberation Sans', sans-serif" font-weight="bold">(</text>
<text transform="translate(416.20,974.20)" font-size="24.00" font-family="'Liberation Sans', sans-serif" font-weight="bold">cm</text>
<text transform="translate(450.70,960.50)" font-size="15.00" font-family="'Liberation Sans', sans-serif" font-weight="bold">-1</text>
<text transform="translate(466.10,974.00)" font-size="30.50" font-family="'Liberation Sans', sans-serif" font-weight="bold">)</text>
<line x1="382.70" y1="518.50" x2="429.20" y2="518.50" stroke="#0a0a0a" stroke-width="2.9" stroke-linecap="round"/>
<text transform="translate(435.00,526.30)" font-size="20.50" font-family="'Liberation Sans', sans-serif" font-weight="bold">PI-COF-m10</text>
<line x1="382.70" y1="544.60" x2="429.20" y2="544.60" stroke="#dc1c1c" stroke-width="2.9" stroke-linecap="round"/>
<text transform="translate(435.00,552.40)" font-size="20.50" font-family="'Liberation Sans', sans-serif" font-weight="bold">PI-COF-m10 adsp</text>
<line x1="382.70" y1="570.70" x2="429.20" y2="570.70" stroke="#1c1ccc" stroke-width="2.9" stroke-linecap="round"/>
<text transform="translate(435.00,578.50)" font-size="20.50" font-family="'Liberation Sans', sans-serif" font-weight="bold">PI-COF-m10 desp 1st</text>
<line x1="382.70" y1="596.80" x2="429.20" y2="596.80" stroke="#d81cd8" stroke-width="2.9" stroke-linecap="round"/>
<text transform="translate(435.00,604.60)" font-size="20.50" font-family="'Liberation Sans', sans-serif" font-weight="bold">PI-COF-m10 desp 5th</text>
<text x="228" y="578.2" font-size="14" font-family="'Liberation Sans', sans-serif" font-weight="bold">1320</text>
<text x="156.2" y="640.9" font-size="14" font-family="'Liberation Sans', sans-serif" font-weight="bold">1323</text>
<text x="568.5" y="692.5" font-size="14" font-family="'Liberation Sans', sans-serif" font-weight="bold">1142</text>
</svg>
</body></html>
